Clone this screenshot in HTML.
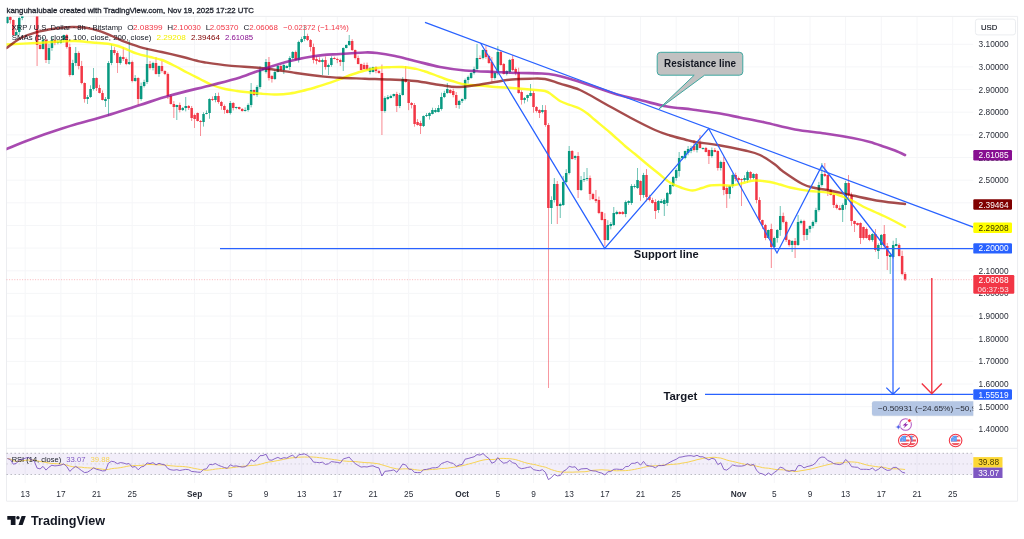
<!DOCTYPE html><html><head><meta charset="utf-8"><title>XRP / U.S. Dollar chart</title><style>html,body{margin:0;padding:0;background:#fff}body{width:1024px;height:539px;overflow:hidden;position:relative;font-family:"Liberation Sans",Arial,sans-serif}</style></head><body>
<svg width="1024" height="539" viewBox="0 0 1024 539" style="position:absolute;left:0;top:0;filter:blur(0.45px);font-family:'Liberation Sans',Arial,sans-serif">
<defs><clipPath id="cp"><rect x="6.5" y="16.4" width="966.8" height="431.6"/></clipPath>
<clipPath id="cr"><rect x="6.5" y="449" width="966.8" height="32"/></clipPath></defs>
<rect width="1024" height="539" fill="#fff"/>
<line x1="25.2" y1="16.4" x2="25.2" y2="483.0" stroke="#f5f6f8" stroke-width="1"/>
<line x1="60.9" y1="16.4" x2="60.9" y2="483.0" stroke="#f5f6f8" stroke-width="1"/>
<line x1="96.5" y1="16.4" x2="96.5" y2="483.0" stroke="#f5f6f8" stroke-width="1"/>
<line x1="132.2" y1="16.4" x2="132.2" y2="483.0" stroke="#f5f6f8" stroke-width="1"/>
<line x1="194.6" y1="16.4" x2="194.6" y2="483.0" stroke="#f5f6f8" stroke-width="1"/>
<line x1="230.3" y1="16.4" x2="230.3" y2="483.0" stroke="#f5f6f8" stroke-width="1"/>
<line x1="266.0" y1="16.4" x2="266.0" y2="483.0" stroke="#f5f6f8" stroke-width="1"/>
<line x1="301.7" y1="16.4" x2="301.7" y2="483.0" stroke="#f5f6f8" stroke-width="1"/>
<line x1="337.3" y1="16.4" x2="337.3" y2="483.0" stroke="#f5f6f8" stroke-width="1"/>
<line x1="373.0" y1="16.4" x2="373.0" y2="483.0" stroke="#f5f6f8" stroke-width="1"/>
<line x1="408.7" y1="16.4" x2="408.7" y2="483.0" stroke="#f5f6f8" stroke-width="1"/>
<line x1="462.2" y1="16.4" x2="462.2" y2="483.0" stroke="#f5f6f8" stroke-width="1"/>
<line x1="497.8" y1="16.4" x2="497.8" y2="483.0" stroke="#f5f6f8" stroke-width="1"/>
<line x1="533.5" y1="16.4" x2="533.5" y2="483.0" stroke="#f5f6f8" stroke-width="1"/>
<line x1="569.2" y1="16.4" x2="569.2" y2="483.0" stroke="#f5f6f8" stroke-width="1"/>
<line x1="604.9" y1="16.4" x2="604.9" y2="483.0" stroke="#f5f6f8" stroke-width="1"/>
<line x1="640.5" y1="16.4" x2="640.5" y2="483.0" stroke="#f5f6f8" stroke-width="1"/>
<line x1="676.2" y1="16.4" x2="676.2" y2="483.0" stroke="#f5f6f8" stroke-width="1"/>
<line x1="738.6" y1="16.4" x2="738.6" y2="483.0" stroke="#f5f6f8" stroke-width="1"/>
<line x1="774.3" y1="16.4" x2="774.3" y2="483.0" stroke="#f5f6f8" stroke-width="1"/>
<line x1="810.0" y1="16.4" x2="810.0" y2="483.0" stroke="#f5f6f8" stroke-width="1"/>
<line x1="845.6" y1="16.4" x2="845.6" y2="483.0" stroke="#f5f6f8" stroke-width="1"/>
<line x1="881.3" y1="16.4" x2="881.3" y2="483.0" stroke="#f5f6f8" stroke-width="1"/>
<line x1="917.0" y1="16.4" x2="917.0" y2="483.0" stroke="#f5f6f8" stroke-width="1"/>
<line x1="952.7" y1="16.4" x2="952.7" y2="483.0" stroke="#f5f6f8" stroke-width="1"/>
<line x1="6.5" y1="44.3" x2="973.3" y2="44.3" stroke="#f5f6f8" stroke-width="1"/>
<line x1="6.5" y1="66.9" x2="973.3" y2="66.9" stroke="#f5f6f8" stroke-width="1"/>
<line x1="6.5" y1="89.6" x2="973.3" y2="89.6" stroke="#f5f6f8" stroke-width="1"/>
<line x1="6.5" y1="112.2" x2="973.3" y2="112.2" stroke="#f5f6f8" stroke-width="1"/>
<line x1="6.5" y1="134.9" x2="973.3" y2="134.9" stroke="#f5f6f8" stroke-width="1"/>
<line x1="6.5" y1="157.5" x2="973.3" y2="157.5" stroke="#f5f6f8" stroke-width="1"/>
<line x1="6.5" y1="180.2" x2="973.3" y2="180.2" stroke="#f5f6f8" stroke-width="1"/>
<line x1="6.5" y1="202.8" x2="973.3" y2="202.8" stroke="#f5f6f8" stroke-width="1"/>
<line x1="6.5" y1="225.5" x2="973.3" y2="225.5" stroke="#f5f6f8" stroke-width="1"/>
<line x1="6.5" y1="248.1" x2="973.3" y2="248.1" stroke="#f5f6f8" stroke-width="1"/>
<line x1="6.5" y1="270.8" x2="973.3" y2="270.8" stroke="#f5f6f8" stroke-width="1"/>
<line x1="6.5" y1="293.4" x2="973.3" y2="293.4" stroke="#f5f6f8" stroke-width="1"/>
<line x1="6.5" y1="316.1" x2="973.3" y2="316.1" stroke="#f5f6f8" stroke-width="1"/>
<line x1="6.5" y1="338.7" x2="973.3" y2="338.7" stroke="#f5f6f8" stroke-width="1"/>
<line x1="6.5" y1="361.4" x2="973.3" y2="361.4" stroke="#f5f6f8" stroke-width="1"/>
<line x1="6.5" y1="384.0" x2="973.3" y2="384.0" stroke="#f5f6f8" stroke-width="1"/>
<line x1="6.5" y1="406.7" x2="973.3" y2="406.7" stroke="#f5f6f8" stroke-width="1"/>
<line x1="6.5" y1="429.3" x2="973.3" y2="429.3" stroke="#f5f6f8" stroke-width="1"/>
<path d="M6.5 16.4H1017.6V501.2H6.5Z" fill="none" stroke="#ecedf0" stroke-width="1"/>
<line x1="6.5" y1="448.3" x2="1017.6" y2="448.3" stroke="#ecedf0" stroke-width="1"/>
<rect x="6.5" y="453.3" width="966.8" height="21.3" fill="#7e57c2" fill-opacity="0.1"/>
<line x1="6.5" y1="453.30" x2="973.3" y2="453.30" stroke="#9a9ca5" stroke-width="0.8" stroke-dasharray="1.5 2.5" opacity="0.9"/>
<line x1="6.5" y1="463.95" x2="973.3" y2="463.95" stroke="#9a9ca5" stroke-width="0.8" stroke-dasharray="1.5 2.5" opacity="0.45"/>
<line x1="6.5" y1="474.60" x2="973.3" y2="474.60" stroke="#9a9ca5" stroke-width="0.8" stroke-dasharray="1.5 2.5" opacity="0.9"/>
<g clip-path="url(#cp)">
<path d="M7.36 15.7V23.8" stroke="#089981" stroke-width="0.7" opacity="0.85"/>
<rect x="6.11" y="17.0" width="2.5" height="6.0" fill="#089981"/>
<path d="M10.33 15.6V23.6" stroke="#f23645" stroke-width="0.7" opacity="0.85"/>
<rect x="9.08" y="17.0" width="2.5" height="3.0" fill="#f23645"/>
<path d="M13.31 19.4V35.6" stroke="#f23645" stroke-width="0.7" opacity="0.85"/>
<rect x="12.06" y="20.0" width="2.5" height="15.0" fill="#f23645"/>
<path d="M16.28 29.8V35.4" stroke="#089981" stroke-width="0.7" opacity="0.85"/>
<rect x="15.03" y="32.0" width="2.5" height="3.0" fill="#089981"/>
<path d="M19.25 16.3V35.5" stroke="#089981" stroke-width="0.7" opacity="0.85"/>
<rect x="18.00" y="18.0" width="2.5" height="14.0" fill="#089981"/>
<path d="M22.22 14.6V20.2" stroke="#089981" stroke-width="0.7" opacity="0.85"/>
<rect x="20.97" y="15.0" width="2.5" height="3.0" fill="#089981"/>
<path d="M25.20 9.2V15.4" stroke="#089981" stroke-width="0.7" opacity="0.85"/>
<rect x="23.95" y="10.0" width="2.5" height="5.0" fill="#089981"/>
<path d="M28.17 5.6V11.5" stroke="#089981" stroke-width="0.7" opacity="0.85"/>
<rect x="26.92" y="6.0" width="2.5" height="4.0" fill="#089981"/>
<path d="M31.14 4.3V12.4" stroke="#f23645" stroke-width="0.7" opacity="0.85"/>
<rect x="29.89" y="6.0" width="2.5" height="6.0" fill="#f23645"/>
<path d="M34.11 11.2V16.4" stroke="#f23645" stroke-width="0.7" opacity="0.85"/>
<rect x="32.86" y="12.0" width="2.5" height="4.0" fill="#f23645"/>
<path d="M37.09 10.7V66.0" stroke="#f23645" stroke-width="0.7" opacity="0.85"/>
<rect x="35.84" y="16.0" width="2.5" height="29.0" fill="#f23645"/>
<path d="M40.06 43.5V49.4" stroke="#f23645" stroke-width="0.7" opacity="0.85"/>
<rect x="38.81" y="45.0" width="2.5" height="4.0" fill="#f23645"/>
<path d="M43.03 37.1V49.5" stroke="#089981" stroke-width="0.7" opacity="0.85"/>
<rect x="41.78" y="40.0" width="2.5" height="9.0" fill="#089981"/>
<path d="M46.00 38.6V63.0" stroke="#f23645" stroke-width="0.7" opacity="0.85"/>
<rect x="44.75" y="40.0" width="2.5" height="20.0" fill="#f23645"/>
<path d="M48.98 43.7V64.0" stroke="#089981" stroke-width="0.7" opacity="0.85"/>
<rect x="47.73" y="48.0" width="2.5" height="12.0" fill="#089981"/>
<path d="M51.95 36.3V50.8" stroke="#089981" stroke-width="0.7" opacity="0.85"/>
<rect x="50.70" y="40.0" width="2.5" height="8.0" fill="#089981"/>
<path d="M54.92 39.6V45.2" stroke="#f23645" stroke-width="0.7" opacity="0.85"/>
<rect x="53.67" y="40.0" width="2.5" height="3.0" fill="#f23645"/>
<path d="M57.89 40.1V44.3" stroke="#089981" stroke-width="0.7" opacity="0.85"/>
<rect x="56.64" y="42.0" width="2.5" height="1.0" fill="#089981"/>
<path d="M60.87 39.6V43.7" stroke="#089981" stroke-width="0.7" opacity="0.85"/>
<rect x="59.62" y="40.0" width="2.5" height="3.0" fill="#089981"/>
<path d="M63.84 34.6V42.4" stroke="#089981" stroke-width="0.7" opacity="0.85"/>
<rect x="62.59" y="35.0" width="2.5" height="5.0" fill="#089981"/>
<path d="M66.81 33.9V48.6" stroke="#f23645" stroke-width="0.7" opacity="0.85"/>
<rect x="65.56" y="35.0" width="2.5" height="12.0" fill="#f23645"/>
<path d="M69.78 43.6V76.7" stroke="#f23645" stroke-width="0.7" opacity="0.85"/>
<rect x="68.53" y="47.0" width="2.5" height="28.0" fill="#f23645"/>
<path d="M72.76 59.8V75.5" stroke="#089981" stroke-width="0.7" opacity="0.85"/>
<rect x="71.51" y="63.0" width="2.5" height="12.0" fill="#089981"/>
<path d="M75.73 47.0V66.0" stroke="#089981" stroke-width="0.7" opacity="0.85"/>
<rect x="74.48" y="53.0" width="2.5" height="10.0" fill="#089981"/>
<path d="M78.70 51.3V69.4" stroke="#f23645" stroke-width="0.7" opacity="0.85"/>
<rect x="77.45" y="53.0" width="2.5" height="13.0" fill="#f23645"/>
<path d="M81.67 60.9V84.3" stroke="#f23645" stroke-width="0.7" opacity="0.85"/>
<rect x="80.42" y="66.0" width="2.5" height="17.0" fill="#f23645"/>
<path d="M84.65 82.4V102.7" stroke="#f23645" stroke-width="0.7" opacity="0.85"/>
<rect x="83.40" y="83.0" width="2.5" height="16.0" fill="#f23645"/>
<path d="M87.62 95.0V104.0" stroke="#089981" stroke-width="0.7" opacity="0.85"/>
<rect x="86.37" y="97.0" width="2.5" height="2.0" fill="#089981"/>
<path d="M90.59 85.3V97.9" stroke="#089981" stroke-width="0.7" opacity="0.85"/>
<rect x="89.34" y="89.0" width="2.5" height="8.0" fill="#089981"/>
<path d="M93.57 68.0V90.6" stroke="#089981" stroke-width="0.7" opacity="0.85"/>
<rect x="92.32" y="78.0" width="2.5" height="11.0" fill="#089981"/>
<path d="M96.54 77.5V91.0" stroke="#f23645" stroke-width="0.7" opacity="0.85"/>
<rect x="95.29" y="78.0" width="2.5" height="10.0" fill="#f23645"/>
<path d="M99.51 84.8V93.4" stroke="#f23645" stroke-width="0.7" opacity="0.85"/>
<rect x="98.26" y="88.0" width="2.5" height="5.0" fill="#f23645"/>
<path d="M102.48 90.4V100.4" stroke="#f23645" stroke-width="0.7" opacity="0.85"/>
<rect x="101.23" y="93.0" width="2.5" height="7.0" fill="#f23645"/>
<path d="M105.46 97.0V107.0" stroke="#089981" stroke-width="0.7" opacity="0.85"/>
<rect x="104.21" y="99.0" width="2.5" height="2.0" fill="#089981"/>
<path d="M108.43 61.0V116.0" stroke="#089981" stroke-width="0.7" opacity="0.85"/>
<rect x="107.18" y="63.0" width="2.5" height="36.0" fill="#089981"/>
<path d="M111.40 44.0V65.2" stroke="#089981" stroke-width="0.7" opacity="0.85"/>
<rect x="110.15" y="50.0" width="2.5" height="13.0" fill="#089981"/>
<path d="M114.37 47.1V55.2" stroke="#f23645" stroke-width="0.7" opacity="0.85"/>
<rect x="113.12" y="50.0" width="2.5" height="3.0" fill="#f23645"/>
<path d="M117.35 51.0V73.0" stroke="#f23645" stroke-width="0.7" opacity="0.85"/>
<rect x="116.10" y="53.0" width="2.5" height="10.0" fill="#f23645"/>
<path d="M120.32 55.7V64.7" stroke="#089981" stroke-width="0.7" opacity="0.85"/>
<rect x="119.07" y="57.0" width="2.5" height="6.0" fill="#089981"/>
<path d="M123.29 47.0V61.0" stroke="#f23645" stroke-width="0.7" opacity="0.85"/>
<rect x="122.04" y="57.0" width="2.5" height="2.0" fill="#f23645"/>
<path d="M126.26 57.4V65.2" stroke="#f23645" stroke-width="0.7" opacity="0.85"/>
<rect x="125.01" y="59.0" width="2.5" height="5.0" fill="#f23645"/>
<path d="M129.24 40.0V65.0" stroke="#089981" stroke-width="0.7" opacity="0.85"/>
<rect x="127.99" y="62.0" width="2.5" height="2.0" fill="#089981"/>
<path d="M132.21 60.6V82.4" stroke="#f23645" stroke-width="0.7" opacity="0.85"/>
<rect x="130.96" y="62.0" width="2.5" height="19.0" fill="#f23645"/>
<path d="M135.18 75.1V81.7" stroke="#089981" stroke-width="0.7" opacity="0.85"/>
<rect x="133.93" y="78.0" width="2.5" height="3.0" fill="#089981"/>
<path d="M138.15 77.3V105.0" stroke="#f23645" stroke-width="0.7" opacity="0.85"/>
<rect x="136.90" y="78.0" width="2.5" height="21.0" fill="#f23645"/>
<path d="M141.13 82.6V100.7" stroke="#089981" stroke-width="0.7" opacity="0.85"/>
<rect x="139.88" y="86.0" width="2.5" height="13.0" fill="#089981"/>
<path d="M144.10 79.7V87.5" stroke="#089981" stroke-width="0.7" opacity="0.85"/>
<rect x="142.85" y="82.0" width="2.5" height="4.0" fill="#089981"/>
<path d="M147.07 48.0V84.0" stroke="#089981" stroke-width="0.7" opacity="0.85"/>
<rect x="145.82" y="64.0" width="2.5" height="18.0" fill="#089981"/>
<path d="M150.04 61.0V69.5" stroke="#f23645" stroke-width="0.7" opacity="0.85"/>
<rect x="148.79" y="64.0" width="2.5" height="4.0" fill="#f23645"/>
<path d="M153.02 61.8V70.4" stroke="#089981" stroke-width="0.7" opacity="0.85"/>
<rect x="151.77" y="63.0" width="2.5" height="5.0" fill="#089981"/>
<path d="M155.99 57.0V74.5" stroke="#f23645" stroke-width="0.7" opacity="0.85"/>
<rect x="154.74" y="63.0" width="2.5" height="11.0" fill="#f23645"/>
<path d="M158.96 65.5V76.8" stroke="#089981" stroke-width="0.7" opacity="0.85"/>
<rect x="157.71" y="66.0" width="2.5" height="8.0" fill="#089981"/>
<path d="M161.94 61.0V72.6" stroke="#f23645" stroke-width="0.7" opacity="0.85"/>
<rect x="160.69" y="66.0" width="2.5" height="5.0" fill="#f23645"/>
<path d="M164.91 70.3V75.1" stroke="#f23645" stroke-width="0.7" opacity="0.85"/>
<rect x="163.66" y="71.0" width="2.5" height="3.0" fill="#f23645"/>
<path d="M167.88 72.5V99.0" stroke="#f23645" stroke-width="0.7" opacity="0.85"/>
<rect x="166.63" y="74.0" width="2.5" height="22.0" fill="#f23645"/>
<path d="M170.85 94.2V104.5" stroke="#f23645" stroke-width="0.7" opacity="0.85"/>
<rect x="169.60" y="96.0" width="2.5" height="8.0" fill="#f23645"/>
<path d="M173.83 101.1V118.0" stroke="#f23645" stroke-width="0.7" opacity="0.85"/>
<rect x="172.58" y="104.0" width="2.5" height="3.0" fill="#f23645"/>
<path d="M176.80 104.7V120.0" stroke="#089981" stroke-width="0.7" opacity="0.85"/>
<rect x="175.55" y="105.0" width="2.5" height="2.0" fill="#089981"/>
<path d="M179.77 102.6V112.4" stroke="#f23645" stroke-width="0.7" opacity="0.85"/>
<rect x="178.52" y="105.0" width="2.5" height="5.0" fill="#f23645"/>
<path d="M182.74 107.0V111.0" stroke="#089981" stroke-width="0.7" opacity="0.85"/>
<rect x="181.49" y="108.0" width="2.5" height="2.0" fill="#089981"/>
<path d="M185.72 97.0V111.4" stroke="#089981" stroke-width="0.7" opacity="0.85"/>
<rect x="184.47" y="106.0" width="2.5" height="2.0" fill="#089981"/>
<path d="M188.69 105.0V110.0" stroke="#f23645" stroke-width="0.7" opacity="0.85"/>
<rect x="187.44" y="106.0" width="2.5" height="2.0" fill="#f23645"/>
<path d="M191.66 106.0V121.0" stroke="#f23645" stroke-width="0.7" opacity="0.85"/>
<rect x="190.41" y="108.0" width="2.5" height="10.0" fill="#f23645"/>
<path d="M194.63 113.5V128.0" stroke="#f23645" stroke-width="0.7" opacity="0.85"/>
<rect x="193.38" y="115.0" width="2.5" height="4.0" fill="#f23645"/>
<path d="M197.61 112.5V121.5" stroke="#f23645" stroke-width="0.7" opacity="0.85"/>
<rect x="196.36" y="113.0" width="2.5" height="8.0" fill="#f23645"/>
<path d="M200.58 120.0V136.0" stroke="#f23645" stroke-width="0.7" opacity="0.85"/>
<rect x="199.33" y="121.0" width="2.5" height="1.0" fill="#f23645"/>
<path d="M203.55 112.2V126.6" stroke="#089981" stroke-width="0.7" opacity="0.85"/>
<rect x="202.30" y="114.0" width="2.5" height="8.0" fill="#089981"/>
<path d="M206.52 110.4V114.3" stroke="#089981" stroke-width="0.7" opacity="0.85"/>
<rect x="205.27" y="113.0" width="2.5" height="1.0" fill="#089981"/>
<path d="M209.50 98.4V118.8" stroke="#089981" stroke-width="0.7" opacity="0.85"/>
<rect x="208.25" y="99.0" width="2.5" height="14.0" fill="#089981"/>
<path d="M212.47 96.4V101.0" stroke="#f23645" stroke-width="0.7" opacity="0.85"/>
<rect x="211.22" y="99.0" width="2.5" height="1.0" fill="#f23645"/>
<path d="M215.44 93.0V102.3" stroke="#089981" stroke-width="0.7" opacity="0.85"/>
<rect x="214.19" y="96.0" width="2.5" height="4.0" fill="#089981"/>
<path d="M218.41 92.6V103.7" stroke="#f23645" stroke-width="0.7" opacity="0.85"/>
<rect x="217.16" y="96.0" width="2.5" height="6.0" fill="#f23645"/>
<path d="M221.39 100.9V109.8" stroke="#f23645" stroke-width="0.7" opacity="0.85"/>
<rect x="220.14" y="102.0" width="2.5" height="4.0" fill="#f23645"/>
<path d="M224.36 104.5V113.8" stroke="#f23645" stroke-width="0.7" opacity="0.85"/>
<rect x="223.11" y="106.0" width="2.5" height="4.0" fill="#f23645"/>
<path d="M227.33 108.9V113.4" stroke="#f23645" stroke-width="0.7" opacity="0.85"/>
<rect x="226.08" y="110.0" width="2.5" height="3.0" fill="#f23645"/>
<path d="M230.31 101.0V114.5" stroke="#089981" stroke-width="0.7" opacity="0.85"/>
<rect x="229.06" y="103.0" width="2.5" height="10.0" fill="#089981"/>
<path d="M233.28 102.2V110.4" stroke="#f23645" stroke-width="0.7" opacity="0.85"/>
<rect x="232.03" y="103.0" width="2.5" height="5.0" fill="#f23645"/>
<path d="M236.25 106.7V109.3" stroke="#089981" stroke-width="0.7" opacity="0.85"/>
<rect x="235.00" y="107.0" width="2.5" height="1.0" fill="#089981"/>
<path d="M239.22 106.7V109.7" stroke="#f23645" stroke-width="0.7" opacity="0.85"/>
<rect x="237.97" y="107.0" width="2.5" height="2.0" fill="#f23645"/>
<path d="M242.20 108.0V111.7" stroke="#f23645" stroke-width="0.7" opacity="0.85"/>
<rect x="240.95" y="109.0" width="2.5" height="2.0" fill="#f23645"/>
<path d="M245.17 107.4V111.6" stroke="#089981" stroke-width="0.7" opacity="0.85"/>
<rect x="243.92" y="110.0" width="2.5" height="1.0" fill="#089981"/>
<path d="M248.14 103.4V111.6" stroke="#089981" stroke-width="0.7" opacity="0.85"/>
<rect x="246.89" y="105.0" width="2.5" height="5.0" fill="#089981"/>
<path d="M251.11 83.0V107.4" stroke="#089981" stroke-width="0.7" opacity="0.85"/>
<rect x="249.86" y="90.0" width="2.5" height="15.0" fill="#089981"/>
<path d="M254.09 89.6V95.8" stroke="#f23645" stroke-width="0.7" opacity="0.85"/>
<rect x="252.84" y="90.0" width="2.5" height="5.0" fill="#f23645"/>
<path d="M257.06 85.2V96.8" stroke="#089981" stroke-width="0.7" opacity="0.85"/>
<rect x="255.81" y="87.0" width="2.5" height="8.0" fill="#089981"/>
<path d="M260.03 66.2V88.9" stroke="#089981" stroke-width="0.7" opacity="0.85"/>
<rect x="258.78" y="70.0" width="2.5" height="17.0" fill="#089981"/>
<path d="M263.00 68.4V71.3" stroke="#089981" stroke-width="0.7" opacity="0.85"/>
<rect x="261.75" y="69.0" width="2.5" height="1.0" fill="#089981"/>
<path d="M265.98 59.0V73.5" stroke="#089981" stroke-width="0.7" opacity="0.85"/>
<rect x="264.73" y="62.0" width="2.5" height="10.0" fill="#089981"/>
<path d="M268.95 57.0V80.5" stroke="#f23645" stroke-width="0.7" opacity="0.85"/>
<rect x="267.70" y="62.0" width="2.5" height="16.0" fill="#f23645"/>
<path d="M271.92 74.9V82.6" stroke="#f23645" stroke-width="0.7" opacity="0.85"/>
<rect x="270.67" y="76.0" width="2.5" height="3.0" fill="#f23645"/>
<path d="M274.89 70.2V79.9" stroke="#089981" stroke-width="0.7" opacity="0.85"/>
<rect x="273.64" y="72.0" width="2.5" height="7.0" fill="#089981"/>
<path d="M277.87 65.2V72.4" stroke="#089981" stroke-width="0.7" opacity="0.85"/>
<rect x="276.62" y="66.0" width="2.5" height="6.0" fill="#089981"/>
<path d="M280.84 65.2V70.8" stroke="#f23645" stroke-width="0.7" opacity="0.85"/>
<rect x="279.59" y="66.0" width="2.5" height="4.0" fill="#f23645"/>
<path d="M283.81 64.2V74.0" stroke="#089981" stroke-width="0.7" opacity="0.85"/>
<rect x="282.56" y="65.0" width="2.5" height="5.0" fill="#089981"/>
<path d="M286.78 65.3V68.3" stroke="#089981" stroke-width="0.7" opacity="0.85"/>
<rect x="285.53" y="66.0" width="2.5" height="2.0" fill="#089981"/>
<path d="M289.76 56.1V69.9" stroke="#089981" stroke-width="0.7" opacity="0.85"/>
<rect x="288.51" y="58.0" width="2.5" height="9.0" fill="#089981"/>
<path d="M292.73 51.2V59.3" stroke="#089981" stroke-width="0.7" opacity="0.85"/>
<rect x="291.48" y="52.0" width="2.5" height="6.0" fill="#089981"/>
<path d="M295.70 50.6V60.5" stroke="#f23645" stroke-width="0.7" opacity="0.85"/>
<rect x="294.45" y="52.0" width="2.5" height="8.0" fill="#f23645"/>
<path d="M298.67 40.7V62.6" stroke="#089981" stroke-width="0.7" opacity="0.85"/>
<rect x="297.42" y="42.0" width="2.5" height="18.0" fill="#089981"/>
<path d="M301.65 36.8V43.1" stroke="#089981" stroke-width="0.7" opacity="0.85"/>
<rect x="300.40" y="39.0" width="2.5" height="3.0" fill="#089981"/>
<path d="M304.62 25.0V41.2" stroke="#089981" stroke-width="0.7" opacity="0.85"/>
<rect x="303.37" y="36.0" width="2.5" height="3.0" fill="#089981"/>
<path d="M307.59 33.7V41.1" stroke="#f23645" stroke-width="0.7" opacity="0.85"/>
<rect x="306.34" y="36.0" width="2.5" height="4.0" fill="#f23645"/>
<path d="M310.57 39.1V51.4" stroke="#f23645" stroke-width="0.7" opacity="0.85"/>
<rect x="309.32" y="40.0" width="2.5" height="7.0" fill="#f23645"/>
<path d="M313.54 43.6V63.4" stroke="#f23645" stroke-width="0.7" opacity="0.85"/>
<rect x="312.29" y="47.0" width="2.5" height="13.0" fill="#f23645"/>
<path d="M316.51 56.3V64.4" stroke="#f23645" stroke-width="0.7" opacity="0.85"/>
<rect x="315.26" y="59.0" width="2.5" height="2.0" fill="#f23645"/>
<path d="M319.48 57.3V62.3" stroke="#f23645" stroke-width="0.7" opacity="0.85"/>
<rect x="318.23" y="60.0" width="2.5" height="2.0" fill="#f23645"/>
<path d="M322.46 58.6V75.0" stroke="#089981" stroke-width="0.7" opacity="0.85"/>
<rect x="321.21" y="60.0" width="2.5" height="2.0" fill="#089981"/>
<path d="M325.43 56.5V69.6" stroke="#f23645" stroke-width="0.7" opacity="0.85"/>
<rect x="324.18" y="60.0" width="2.5" height="7.0" fill="#f23645"/>
<path d="M328.40 63.6V75.0" stroke="#089981" stroke-width="0.7" opacity="0.85"/>
<rect x="327.15" y="65.0" width="2.5" height="2.0" fill="#089981"/>
<path d="M331.37 56.2V66.8" stroke="#089981" stroke-width="0.7" opacity="0.85"/>
<rect x="330.12" y="58.0" width="2.5" height="7.0" fill="#089981"/>
<path d="M334.35 56.7V59.3" stroke="#f23645" stroke-width="0.7" opacity="0.85"/>
<rect x="333.10" y="58.0" width="2.5" height="1.0" fill="#f23645"/>
<path d="M337.32 57.7V63.2" stroke="#f23645" stroke-width="0.7" opacity="0.85"/>
<rect x="336.07" y="59.0" width="2.5" height="1.0" fill="#f23645"/>
<path d="M340.29 58.6V66.0" stroke="#f23645" stroke-width="0.7" opacity="0.85"/>
<rect x="339.04" y="60.0" width="2.5" height="2.0" fill="#f23645"/>
<path d="M343.26 47.4V71.0" stroke="#089981" stroke-width="0.7" opacity="0.85"/>
<rect x="342.01" y="48.0" width="2.5" height="14.0" fill="#089981"/>
<path d="M346.24 44.3V48.4" stroke="#089981" stroke-width="0.7" opacity="0.85"/>
<rect x="344.99" y="45.0" width="2.5" height="3.0" fill="#089981"/>
<path d="M349.21 35.0V45.8" stroke="#089981" stroke-width="0.7" opacity="0.85"/>
<rect x="347.96" y="41.0" width="2.5" height="4.0" fill="#089981"/>
<path d="M352.18 39.1V51.0" stroke="#f23645" stroke-width="0.7" opacity="0.85"/>
<rect x="350.93" y="41.0" width="2.5" height="9.0" fill="#f23645"/>
<path d="M355.15 49.5V59.4" stroke="#f23645" stroke-width="0.7" opacity="0.85"/>
<rect x="353.90" y="50.0" width="2.5" height="8.0" fill="#f23645"/>
<path d="M358.13 55.5V64.4" stroke="#f23645" stroke-width="0.7" opacity="0.85"/>
<rect x="356.88" y="58.0" width="2.5" height="6.0" fill="#f23645"/>
<path d="M361.10 63.6V70.4" stroke="#f23645" stroke-width="0.7" opacity="0.85"/>
<rect x="359.85" y="64.0" width="2.5" height="6.0" fill="#f23645"/>
<path d="M364.07 62.7V69.8" stroke="#f23645" stroke-width="0.7" opacity="0.85"/>
<rect x="362.82" y="65.0" width="2.5" height="4.0" fill="#f23645"/>
<path d="M367.04 62.6V70.4" stroke="#f23645" stroke-width="0.7" opacity="0.85"/>
<rect x="365.79" y="65.0" width="2.5" height="5.0" fill="#f23645"/>
<path d="M370.02 66.9V74.3" stroke="#089981" stroke-width="0.7" opacity="0.85"/>
<rect x="368.77" y="68.0" width="2.5" height="4.0" fill="#089981"/>
<path d="M372.99 66.6V72.4" stroke="#089981" stroke-width="0.7" opacity="0.85"/>
<rect x="371.74" y="67.0" width="2.5" height="5.0" fill="#089981"/>
<path d="M375.96 66.2V73.3" stroke="#f23645" stroke-width="0.7" opacity="0.85"/>
<rect x="374.71" y="67.0" width="2.5" height="4.0" fill="#f23645"/>
<path d="M378.94 69.6V73.7" stroke="#f23645" stroke-width="0.7" opacity="0.85"/>
<rect x="377.69" y="71.0" width="2.5" height="2.0" fill="#f23645"/>
<path d="M381.91 64.5V135.0" stroke="#f23645" stroke-width="0.7" opacity="0.85"/>
<rect x="380.66" y="73.0" width="2.5" height="38.0" fill="#f23645"/>
<path d="M384.88 96.3V112.7" stroke="#089981" stroke-width="0.7" opacity="0.85"/>
<rect x="383.63" y="98.0" width="2.5" height="13.0" fill="#089981"/>
<path d="M387.85 95.0V100.0" stroke="#089981" stroke-width="0.7" opacity="0.85"/>
<rect x="386.60" y="97.0" width="2.5" height="2.0" fill="#089981"/>
<path d="M390.83 94.6V98.3" stroke="#089981" stroke-width="0.7" opacity="0.85"/>
<rect x="389.58" y="96.0" width="2.5" height="2.0" fill="#089981"/>
<path d="M393.80 93.7V97.4" stroke="#089981" stroke-width="0.7" opacity="0.85"/>
<rect x="392.55" y="94.0" width="2.5" height="2.0" fill="#089981"/>
<path d="M396.77 91.8V112.0" stroke="#f23645" stroke-width="0.7" opacity="0.85"/>
<rect x="395.52" y="94.0" width="2.5" height="12.0" fill="#f23645"/>
<path d="M399.74 92.9V108.1" stroke="#089981" stroke-width="0.7" opacity="0.85"/>
<rect x="398.49" y="95.0" width="2.5" height="11.0" fill="#089981"/>
<path d="M402.72 77.1V95.6" stroke="#089981" stroke-width="0.7" opacity="0.85"/>
<rect x="401.47" y="79.0" width="2.5" height="16.0" fill="#089981"/>
<path d="M405.69 66.0V82.7" stroke="#f23645" stroke-width="0.7" opacity="0.85"/>
<rect x="404.44" y="79.0" width="2.5" height="3.0" fill="#f23645"/>
<path d="M408.66 81.3V110.2" stroke="#f23645" stroke-width="0.7" opacity="0.85"/>
<rect x="407.41" y="82.0" width="2.5" height="21.0" fill="#f23645"/>
<path d="M411.63 102.0V108.4" stroke="#f23645" stroke-width="0.7" opacity="0.85"/>
<rect x="410.38" y="103.0" width="2.5" height="2.0" fill="#f23645"/>
<path d="M414.61 103.0V126.7" stroke="#f23645" stroke-width="0.7" opacity="0.85"/>
<rect x="413.36" y="105.0" width="2.5" height="19.0" fill="#f23645"/>
<path d="M417.58 119.1V125.7" stroke="#f23645" stroke-width="0.7" opacity="0.85"/>
<rect x="416.33" y="122.0" width="2.5" height="3.0" fill="#f23645"/>
<path d="M420.55 120.8V134.0" stroke="#f23645" stroke-width="0.7" opacity="0.85"/>
<rect x="419.30" y="123.0" width="2.5" height="3.0" fill="#f23645"/>
<path d="M423.52 115.5V127.0" stroke="#089981" stroke-width="0.7" opacity="0.85"/>
<rect x="422.27" y="116.0" width="2.5" height="10.0" fill="#089981"/>
<path d="M426.50 113.1V117.0" stroke="#089981" stroke-width="0.7" opacity="0.85"/>
<rect x="425.25" y="115.0" width="2.5" height="1.0" fill="#089981"/>
<path d="M429.47 112.3V119.6" stroke="#089981" stroke-width="0.7" opacity="0.85"/>
<rect x="428.22" y="113.0" width="2.5" height="3.0" fill="#089981"/>
<path d="M432.44 107.7V114.4" stroke="#089981" stroke-width="0.7" opacity="0.85"/>
<rect x="431.19" y="110.0" width="2.5" height="4.0" fill="#089981"/>
<path d="M435.41 108.0V113.0" stroke="#089981" stroke-width="0.7" opacity="0.85"/>
<rect x="434.16" y="110.0" width="2.5" height="2.0" fill="#089981"/>
<path d="M438.39 105.0V112.4" stroke="#089981" stroke-width="0.7" opacity="0.85"/>
<rect x="437.14" y="108.0" width="2.5" height="4.0" fill="#089981"/>
<path d="M441.36 92.7V110.6" stroke="#089981" stroke-width="0.7" opacity="0.85"/>
<rect x="440.11" y="97.0" width="2.5" height="12.0" fill="#089981"/>
<path d="M444.33 90.7V98.1" stroke="#089981" stroke-width="0.7" opacity="0.85"/>
<rect x="443.08" y="93.0" width="2.5" height="4.0" fill="#089981"/>
<path d="M447.30 83.0V93.8" stroke="#089981" stroke-width="0.7" opacity="0.85"/>
<rect x="446.05" y="89.0" width="2.5" height="4.0" fill="#089981"/>
<path d="M450.28 88.9V93.7" stroke="#f23645" stroke-width="0.7" opacity="0.85"/>
<rect x="449.03" y="90.0" width="2.5" height="3.0" fill="#f23645"/>
<path d="M453.25 88.7V97.3" stroke="#f23645" stroke-width="0.7" opacity="0.85"/>
<rect x="452.00" y="91.0" width="2.5" height="4.0" fill="#f23645"/>
<path d="M456.22 92.0V108.0" stroke="#f23645" stroke-width="0.7" opacity="0.85"/>
<rect x="454.97" y="95.0" width="2.5" height="10.0" fill="#f23645"/>
<path d="M459.20 99.9V108.8" stroke="#089981" stroke-width="0.7" opacity="0.85"/>
<rect x="457.95" y="101.0" width="2.5" height="4.0" fill="#089981"/>
<path d="M462.17 98.3V103.0" stroke="#089981" stroke-width="0.7" opacity="0.85"/>
<rect x="460.92" y="99.0" width="2.5" height="2.0" fill="#089981"/>
<path d="M465.14 78.6V100.4" stroke="#089981" stroke-width="0.7" opacity="0.85"/>
<rect x="463.89" y="80.0" width="2.5" height="19.0" fill="#089981"/>
<path d="M468.11 75.6V83.6" stroke="#089981" stroke-width="0.7" opacity="0.85"/>
<rect x="466.86" y="77.0" width="2.5" height="3.0" fill="#089981"/>
<path d="M471.09 72.2V78.8" stroke="#089981" stroke-width="0.7" opacity="0.85"/>
<rect x="469.84" y="73.0" width="2.5" height="5.0" fill="#089981"/>
<path d="M474.06 66.7V74.5" stroke="#089981" stroke-width="0.7" opacity="0.85"/>
<rect x="472.81" y="69.0" width="2.5" height="4.0" fill="#089981"/>
<path d="M477.03 44.0V70.6" stroke="#089981" stroke-width="0.7" opacity="0.85"/>
<rect x="475.78" y="58.0" width="2.5" height="11.0" fill="#089981"/>
<path d="M480.00 55.4V59.3" stroke="#f23645" stroke-width="0.7" opacity="0.85"/>
<rect x="478.75" y="58.0" width="2.5" height="1.0" fill="#f23645"/>
<path d="M482.98 49.5V59.4" stroke="#089981" stroke-width="0.7" opacity="0.85"/>
<rect x="481.73" y="50.0" width="2.5" height="8.0" fill="#089981"/>
<path d="M485.95 46.0V58.8" stroke="#f23645" stroke-width="0.7" opacity="0.85"/>
<rect x="484.70" y="50.0" width="2.5" height="7.0" fill="#f23645"/>
<path d="M488.92 54.7V63.9" stroke="#f23645" stroke-width="0.7" opacity="0.85"/>
<rect x="487.67" y="56.0" width="2.5" height="7.0" fill="#f23645"/>
<path d="M491.89 57.0V81.7" stroke="#f23645" stroke-width="0.7" opacity="0.85"/>
<rect x="490.64" y="62.0" width="2.5" height="16.0" fill="#f23645"/>
<path d="M494.87 71.8V79.6" stroke="#089981" stroke-width="0.7" opacity="0.85"/>
<rect x="493.62" y="73.0" width="2.5" height="5.0" fill="#089981"/>
<path d="M497.84 46.2V75.2" stroke="#089981" stroke-width="0.7" opacity="0.85"/>
<rect x="496.59" y="52.0" width="2.5" height="21.0" fill="#089981"/>
<path d="M500.81 50.3V65.6" stroke="#f23645" stroke-width="0.7" opacity="0.85"/>
<rect x="499.56" y="52.0" width="2.5" height="13.0" fill="#f23645"/>
<path d="M503.78 63.0V74.5" stroke="#f23645" stroke-width="0.7" opacity="0.85"/>
<rect x="502.53" y="64.0" width="2.5" height="10.0" fill="#f23645"/>
<path d="M506.76 70.3V75.4" stroke="#089981" stroke-width="0.7" opacity="0.85"/>
<rect x="505.51" y="71.0" width="2.5" height="3.0" fill="#089981"/>
<path d="M509.73 58.9V73.6" stroke="#089981" stroke-width="0.7" opacity="0.85"/>
<rect x="508.48" y="60.0" width="2.5" height="12.0" fill="#089981"/>
<path d="M512.70 55.0V71.0" stroke="#f23645" stroke-width="0.7" opacity="0.85"/>
<rect x="511.45" y="59.0" width="2.5" height="11.0" fill="#f23645"/>
<path d="M515.67 67.5V75.3" stroke="#f23645" stroke-width="0.7" opacity="0.85"/>
<rect x="514.42" y="69.0" width="2.5" height="4.0" fill="#f23645"/>
<path d="M518.65 67.7V93.7" stroke="#f23645" stroke-width="0.7" opacity="0.85"/>
<rect x="517.40" y="72.0" width="2.5" height="21.0" fill="#f23645"/>
<path d="M521.62 90.2V104.6" stroke="#f23645" stroke-width="0.7" opacity="0.85"/>
<rect x="520.37" y="92.0" width="2.5" height="8.0" fill="#f23645"/>
<path d="M524.59 97.0V103.4" stroke="#089981" stroke-width="0.7" opacity="0.85"/>
<rect x="523.34" y="98.0" width="2.5" height="2.0" fill="#089981"/>
<path d="M527.56 94.6V101.6" stroke="#089981" stroke-width="0.7" opacity="0.85"/>
<rect x="526.31" y="95.0" width="2.5" height="3.0" fill="#089981"/>
<path d="M530.54 84.0V96.4" stroke="#089981" stroke-width="0.7" opacity="0.85"/>
<rect x="529.29" y="93.0" width="2.5" height="3.0" fill="#089981"/>
<path d="M533.51 90.7V112.8" stroke="#f23645" stroke-width="0.7" opacity="0.85"/>
<rect x="532.26" y="93.0" width="2.5" height="14.0" fill="#f23645"/>
<path d="M536.48 106.2V112.5" stroke="#f23645" stroke-width="0.7" opacity="0.85"/>
<rect x="535.23" y="107.0" width="2.5" height="4.0" fill="#f23645"/>
<path d="M539.46 109.3V118.0" stroke="#f23645" stroke-width="0.7" opacity="0.85"/>
<rect x="538.21" y="110.0" width="2.5" height="3.0" fill="#f23645"/>
<path d="M542.43 105.0V113.4" stroke="#089981" stroke-width="0.7" opacity="0.85"/>
<rect x="541.18" y="110.0" width="2.5" height="2.0" fill="#089981"/>
<path d="M545.40 105.2V126.8" stroke="#f23645" stroke-width="0.7" opacity="0.85"/>
<rect x="544.15" y="110.0" width="2.5" height="15.0" fill="#f23645"/>
<path d="M548.37 123.0V388.0" stroke="#f23645" stroke-width="0.7" opacity="0.85"/>
<rect x="547.12" y="125.0" width="2.5" height="83.0" fill="#f23645"/>
<path d="M551.35 196.3V224.0" stroke="#089981" stroke-width="0.7" opacity="0.85"/>
<rect x="550.10" y="200.0" width="2.5" height="8.0" fill="#089981"/>
<path d="M554.32 178.0V202.5" stroke="#089981" stroke-width="0.7" opacity="0.85"/>
<rect x="553.07" y="184.0" width="2.5" height="16.0" fill="#089981"/>
<path d="M557.29 181.0V224.0" stroke="#f23645" stroke-width="0.7" opacity="0.85"/>
<rect x="556.04" y="184.0" width="2.5" height="22.0" fill="#f23645"/>
<path d="M560.26 202.6V218.0" stroke="#089981" stroke-width="0.7" opacity="0.85"/>
<rect x="559.01" y="204.0" width="2.5" height="2.0" fill="#089981"/>
<path d="M563.24 175.9V205.8" stroke="#089981" stroke-width="0.7" opacity="0.85"/>
<rect x="561.99" y="182.0" width="2.5" height="23.0" fill="#089981"/>
<path d="M566.21 169.2V183.0" stroke="#089981" stroke-width="0.7" opacity="0.85"/>
<rect x="564.96" y="173.0" width="2.5" height="9.0" fill="#089981"/>
<path d="M569.18 146.0V174.5" stroke="#089981" stroke-width="0.7" opacity="0.85"/>
<rect x="567.93" y="151.0" width="2.5" height="22.0" fill="#089981"/>
<path d="M572.15 150.1V159.5" stroke="#f23645" stroke-width="0.7" opacity="0.85"/>
<rect x="570.90" y="151.0" width="2.5" height="8.0" fill="#f23645"/>
<path d="M575.13 155.3V160.0" stroke="#089981" stroke-width="0.7" opacity="0.85"/>
<rect x="573.88" y="156.0" width="2.5" height="2.0" fill="#089981"/>
<path d="M578.10 152.1V198.0" stroke="#f23645" stroke-width="0.7" opacity="0.85"/>
<rect x="576.85" y="156.0" width="2.5" height="34.0" fill="#f23645"/>
<path d="M581.07 176.0V191.0" stroke="#089981" stroke-width="0.7" opacity="0.85"/>
<rect x="579.82" y="180.0" width="2.5" height="10.0" fill="#089981"/>
<path d="M584.04 172.0V181.9" stroke="#089981" stroke-width="0.7" opacity="0.85"/>
<rect x="582.79" y="179.0" width="2.5" height="1.0" fill="#089981"/>
<path d="M587.02 168.0V180.9" stroke="#089981" stroke-width="0.7" opacity="0.85"/>
<rect x="585.77" y="178.0" width="2.5" height="1.0" fill="#089981"/>
<path d="M589.99 175.5V200.2" stroke="#f23645" stroke-width="0.7" opacity="0.85"/>
<rect x="588.74" y="178.0" width="2.5" height="16.0" fill="#f23645"/>
<path d="M592.96 192.8V199.8" stroke="#f23645" stroke-width="0.7" opacity="0.85"/>
<rect x="591.71" y="194.0" width="2.5" height="5.0" fill="#f23645"/>
<path d="M595.93 190.0V203.0" stroke="#f23645" stroke-width="0.7" opacity="0.85"/>
<rect x="594.68" y="199.0" width="2.5" height="2.0" fill="#f23645"/>
<path d="M598.91 196.6V214.1" stroke="#f23645" stroke-width="0.7" opacity="0.85"/>
<rect x="597.66" y="200.0" width="2.5" height="13.0" fill="#f23645"/>
<path d="M601.88 211.5V220.5" stroke="#f23645" stroke-width="0.7" opacity="0.85"/>
<rect x="600.63" y="212.0" width="2.5" height="8.0" fill="#f23645"/>
<path d="M604.85 213.2V246.0" stroke="#f23645" stroke-width="0.7" opacity="0.85"/>
<rect x="603.60" y="219.0" width="2.5" height="21.0" fill="#f23645"/>
<path d="M607.83 220.2V240.6" stroke="#089981" stroke-width="0.7" opacity="0.85"/>
<rect x="606.58" y="225.0" width="2.5" height="15.0" fill="#089981"/>
<path d="M610.80 222.0V229.4" stroke="#089981" stroke-width="0.7" opacity="0.85"/>
<rect x="609.55" y="224.0" width="2.5" height="2.0" fill="#089981"/>
<path d="M613.77 207.0V226.1" stroke="#089981" stroke-width="0.7" opacity="0.85"/>
<rect x="612.52" y="213.0" width="2.5" height="12.0" fill="#089981"/>
<path d="M616.74 210.6V214.7" stroke="#089981" stroke-width="0.7" opacity="0.85"/>
<rect x="615.49" y="212.0" width="2.5" height="2.0" fill="#089981"/>
<path d="M619.72 211.3V214.3" stroke="#f23645" stroke-width="0.7" opacity="0.85"/>
<rect x="618.47" y="212.0" width="2.5" height="2.0" fill="#f23645"/>
<path d="M622.69 211.0V214.7" stroke="#f23645" stroke-width="0.7" opacity="0.85"/>
<rect x="621.44" y="212.0" width="2.5" height="2.0" fill="#f23645"/>
<path d="M625.66 200.4V217.2" stroke="#089981" stroke-width="0.7" opacity="0.85"/>
<rect x="624.41" y="202.0" width="2.5" height="12.0" fill="#089981"/>
<path d="M628.63 200.3V205.0" stroke="#089981" stroke-width="0.7" opacity="0.85"/>
<rect x="627.38" y="201.0" width="2.5" height="2.0" fill="#089981"/>
<path d="M631.61 184.1V204.9" stroke="#089981" stroke-width="0.7" opacity="0.85"/>
<rect x="630.36" y="186.0" width="2.5" height="17.0" fill="#089981"/>
<path d="M634.58 184.1V188.3" stroke="#089981" stroke-width="0.7" opacity="0.85"/>
<rect x="633.33" y="186.0" width="2.5" height="1.0" fill="#089981"/>
<path d="M637.55 168.0V188.9" stroke="#089981" stroke-width="0.7" opacity="0.85"/>
<rect x="636.30" y="180.0" width="2.5" height="8.0" fill="#089981"/>
<path d="M640.52 180.4V200.8" stroke="#f23645" stroke-width="0.7" opacity="0.85"/>
<rect x="639.27" y="181.0" width="2.5" height="14.0" fill="#f23645"/>
<path d="M643.50 172.9V197.8" stroke="#089981" stroke-width="0.7" opacity="0.85"/>
<rect x="642.25" y="175.0" width="2.5" height="20.0" fill="#089981"/>
<path d="M646.47 169.1V201.4" stroke="#f23645" stroke-width="0.7" opacity="0.85"/>
<rect x="645.22" y="175.0" width="2.5" height="22.0" fill="#f23645"/>
<path d="M649.44 194.8V201.4" stroke="#f23645" stroke-width="0.7" opacity="0.85"/>
<rect x="648.19" y="197.0" width="2.5" height="3.0" fill="#f23645"/>
<path d="M652.41 197.8V203.7" stroke="#f23645" stroke-width="0.7" opacity="0.85"/>
<rect x="651.16" y="200.0" width="2.5" height="3.0" fill="#f23645"/>
<path d="M655.39 199.1V219.0" stroke="#f23645" stroke-width="0.7" opacity="0.85"/>
<rect x="654.14" y="202.0" width="2.5" height="9.0" fill="#f23645"/>
<path d="M658.36 200.0V212.9" stroke="#089981" stroke-width="0.7" opacity="0.85"/>
<rect x="657.11" y="201.0" width="2.5" height="9.0" fill="#089981"/>
<path d="M661.33 199.0V203.3" stroke="#089981" stroke-width="0.7" opacity="0.85"/>
<rect x="660.08" y="201.0" width="2.5" height="2.0" fill="#089981"/>
<path d="M664.30 198.5V216.0" stroke="#089981" stroke-width="0.7" opacity="0.85"/>
<rect x="663.05" y="200.0" width="2.5" height="4.0" fill="#089981"/>
<path d="M667.28 192.0V206.0" stroke="#089981" stroke-width="0.7" opacity="0.85"/>
<rect x="666.03" y="193.0" width="2.5" height="10.0" fill="#089981"/>
<path d="M670.25 184.5V195.0" stroke="#089981" stroke-width="0.7" opacity="0.85"/>
<rect x="669.00" y="185.0" width="2.5" height="9.0" fill="#089981"/>
<path d="M673.22 176.0V187.0" stroke="#089981" stroke-width="0.7" opacity="0.85"/>
<rect x="671.97" y="177.0" width="2.5" height="9.0" fill="#089981"/>
<path d="M676.20 168.2V180.8" stroke="#089981" stroke-width="0.7" opacity="0.85"/>
<rect x="674.95" y="170.0" width="2.5" height="8.0" fill="#089981"/>
<path d="M679.17 152.0V176.6" stroke="#089981" stroke-width="0.7" opacity="0.85"/>
<rect x="677.92" y="158.0" width="2.5" height="13.0" fill="#089981"/>
<path d="M682.14 155.7V160.0" stroke="#089981" stroke-width="0.7" opacity="0.85"/>
<rect x="680.89" y="156.0" width="2.5" height="2.0" fill="#089981"/>
<path d="M685.11 150.6V159.3" stroke="#089981" stroke-width="0.7" opacity="0.85"/>
<rect x="683.86" y="151.0" width="2.5" height="7.0" fill="#089981"/>
<path d="M688.09 146.0V155.3" stroke="#089981" stroke-width="0.7" opacity="0.85"/>
<rect x="686.84" y="149.0" width="2.5" height="4.0" fill="#089981"/>
<path d="M691.06 145.8V153.2" stroke="#089981" stroke-width="0.7" opacity="0.85"/>
<rect x="689.81" y="148.0" width="2.5" height="3.0" fill="#089981"/>
<path d="M694.03 140.0V151.5" stroke="#f23645" stroke-width="0.7" opacity="0.85"/>
<rect x="692.78" y="146.0" width="2.5" height="4.0" fill="#f23645"/>
<path d="M697.00 143.6V152.5" stroke="#089981" stroke-width="0.7" opacity="0.85"/>
<rect x="695.75" y="144.0" width="2.5" height="6.0" fill="#089981"/>
<path d="M699.98 135.0V148.4" stroke="#f23645" stroke-width="0.7" opacity="0.85"/>
<rect x="698.73" y="144.0" width="2.5" height="4.0" fill="#f23645"/>
<path d="M702.95 147.4V149.6" stroke="#089981" stroke-width="0.7" opacity="0.85"/>
<rect x="701.70" y="148.0" width="2.5" height="1.0" fill="#089981"/>
<path d="M705.92 146.9V152.4" stroke="#f23645" stroke-width="0.7" opacity="0.85"/>
<rect x="704.67" y="148.0" width="2.5" height="4.0" fill="#f23645"/>
<path d="M708.89 149.6V164.0" stroke="#f23645" stroke-width="0.7" opacity="0.85"/>
<rect x="707.64" y="150.0" width="2.5" height="6.0" fill="#f23645"/>
<path d="M711.87 147.5V157.7" stroke="#089981" stroke-width="0.7" opacity="0.85"/>
<rect x="710.62" y="150.0" width="2.5" height="6.0" fill="#089981"/>
<path d="M714.84 148.0V152.3" stroke="#f23645" stroke-width="0.7" opacity="0.85"/>
<rect x="713.59" y="150.0" width="2.5" height="2.0" fill="#f23645"/>
<path d="M717.81 150.4V170.6" stroke="#f23645" stroke-width="0.7" opacity="0.85"/>
<rect x="716.56" y="151.0" width="2.5" height="17.0" fill="#f23645"/>
<path d="M720.78 160.7V170.5" stroke="#089981" stroke-width="0.7" opacity="0.85"/>
<rect x="719.53" y="162.0" width="2.5" height="6.0" fill="#089981"/>
<path d="M723.76 156.8V195.2" stroke="#f23645" stroke-width="0.7" opacity="0.85"/>
<rect x="722.51" y="162.0" width="2.5" height="28.0" fill="#f23645"/>
<path d="M726.73 185.5V208.0" stroke="#f23645" stroke-width="0.7" opacity="0.85"/>
<rect x="725.48" y="188.0" width="2.5" height="6.0" fill="#f23645"/>
<path d="M729.70 185.1V198.6" stroke="#089981" stroke-width="0.7" opacity="0.85"/>
<rect x="728.45" y="186.0" width="2.5" height="8.0" fill="#089981"/>
<path d="M732.67 173.4V188.1" stroke="#089981" stroke-width="0.7" opacity="0.85"/>
<rect x="731.42" y="175.0" width="2.5" height="11.0" fill="#089981"/>
<path d="M735.65 172.7V181.3" stroke="#f23645" stroke-width="0.7" opacity="0.85"/>
<rect x="734.40" y="175.0" width="2.5" height="4.0" fill="#f23645"/>
<path d="M738.62 176.6V182.0" stroke="#f23645" stroke-width="0.7" opacity="0.85"/>
<rect x="737.37" y="178.0" width="2.5" height="2.0" fill="#f23645"/>
<path d="M741.59 178.4V206.0" stroke="#f23645" stroke-width="0.7" opacity="0.85"/>
<rect x="740.34" y="179.0" width="2.5" height="1.0" fill="#f23645"/>
<path d="M744.56 175.3V182.0" stroke="#089981" stroke-width="0.7" opacity="0.85"/>
<rect x="743.31" y="178.0" width="2.5" height="2.0" fill="#089981"/>
<path d="M747.54 170.6V182.8" stroke="#089981" stroke-width="0.7" opacity="0.85"/>
<rect x="746.29" y="172.0" width="2.5" height="8.0" fill="#089981"/>
<path d="M750.51 171.2V179.7" stroke="#f23645" stroke-width="0.7" opacity="0.85"/>
<rect x="749.26" y="172.0" width="2.5" height="6.0" fill="#f23645"/>
<path d="M753.48 173.2V179.5" stroke="#089981" stroke-width="0.7" opacity="0.85"/>
<rect x="752.23" y="174.0" width="2.5" height="4.0" fill="#089981"/>
<path d="M756.46 173.2V203.3" stroke="#f23645" stroke-width="0.7" opacity="0.85"/>
<rect x="755.21" y="174.0" width="2.5" height="26.0" fill="#f23645"/>
<path d="M759.43 197.2V222.1" stroke="#f23645" stroke-width="0.7" opacity="0.85"/>
<rect x="758.18" y="200.0" width="2.5" height="20.0" fill="#f23645"/>
<path d="M762.40 219.6V229.0" stroke="#f23645" stroke-width="0.7" opacity="0.85"/>
<rect x="761.15" y="220.0" width="2.5" height="5.0" fill="#f23645"/>
<path d="M765.37 223.9V240.2" stroke="#f23645" stroke-width="0.7" opacity="0.85"/>
<rect x="764.12" y="225.0" width="2.5" height="13.0" fill="#f23645"/>
<path d="M768.35 229.5V238.9" stroke="#089981" stroke-width="0.7" opacity="0.85"/>
<rect x="767.10" y="230.0" width="2.5" height="8.0" fill="#089981"/>
<path d="M771.32 223.7V268.0" stroke="#f23645" stroke-width="0.7" opacity="0.85"/>
<rect x="770.07" y="229.0" width="2.5" height="18.0" fill="#f23645"/>
<path d="M774.29 236.6V247.5" stroke="#089981" stroke-width="0.7" opacity="0.85"/>
<rect x="773.04" y="238.0" width="2.5" height="9.0" fill="#089981"/>
<path d="M777.26 229.1V242.6" stroke="#089981" stroke-width="0.7" opacity="0.85"/>
<rect x="776.01" y="230.0" width="2.5" height="8.0" fill="#089981"/>
<path d="M780.24 206.0V235.8" stroke="#089981" stroke-width="0.7" opacity="0.85"/>
<rect x="778.99" y="216.0" width="2.5" height="14.0" fill="#089981"/>
<path d="M783.21 212.6V223.3" stroke="#f23645" stroke-width="0.7" opacity="0.85"/>
<rect x="781.96" y="216.0" width="2.5" height="6.0" fill="#f23645"/>
<path d="M786.18 220.7V242.0" stroke="#f23645" stroke-width="0.7" opacity="0.85"/>
<rect x="784.93" y="222.0" width="2.5" height="18.0" fill="#f23645"/>
<path d="M789.15 239.2V246.6" stroke="#f23645" stroke-width="0.7" opacity="0.85"/>
<rect x="787.90" y="240.0" width="2.5" height="5.0" fill="#f23645"/>
<path d="M792.13 240.2V252.0" stroke="#089981" stroke-width="0.7" opacity="0.85"/>
<rect x="790.88" y="241.0" width="2.5" height="4.0" fill="#089981"/>
<path d="M795.10 238.0V258.0" stroke="#f23645" stroke-width="0.7" opacity="0.85"/>
<rect x="793.85" y="241.0" width="2.5" height="4.0" fill="#f23645"/>
<path d="M798.07 215.0V245.8" stroke="#089981" stroke-width="0.7" opacity="0.85"/>
<rect x="796.82" y="222.0" width="2.5" height="23.0" fill="#089981"/>
<path d="M801.04 219.6V224.4" stroke="#089981" stroke-width="0.7" opacity="0.85"/>
<rect x="799.79" y="221.0" width="2.5" height="2.0" fill="#089981"/>
<path d="M804.02 219.8V240.8" stroke="#f23645" stroke-width="0.7" opacity="0.85"/>
<rect x="802.77" y="221.0" width="2.5" height="14.0" fill="#f23645"/>
<path d="M806.99 228.2V240.0" stroke="#089981" stroke-width="0.7" opacity="0.85"/>
<rect x="805.74" y="229.0" width="2.5" height="6.0" fill="#089981"/>
<path d="M809.96 225.3V232.6" stroke="#089981" stroke-width="0.7" opacity="0.85"/>
<rect x="808.71" y="226.0" width="2.5" height="3.0" fill="#089981"/>
<path d="M812.93 220.5V228.3" stroke="#089981" stroke-width="0.7" opacity="0.85"/>
<rect x="811.68" y="222.0" width="2.5" height="4.0" fill="#089981"/>
<path d="M815.91 207.8V223.6" stroke="#089981" stroke-width="0.7" opacity="0.85"/>
<rect x="814.66" y="210.0" width="2.5" height="12.0" fill="#089981"/>
<path d="M818.88 181.8V211.6" stroke="#089981" stroke-width="0.7" opacity="0.85"/>
<rect x="817.63" y="185.0" width="2.5" height="25.0" fill="#089981"/>
<path d="M821.85 163.0V186.6" stroke="#089981" stroke-width="0.7" opacity="0.85"/>
<rect x="820.60" y="174.0" width="2.5" height="11.0" fill="#089981"/>
<path d="M824.82 163.0V177.0" stroke="#f23645" stroke-width="0.7" opacity="0.85"/>
<rect x="823.57" y="174.0" width="2.5" height="2.0" fill="#f23645"/>
<path d="M827.80 174.4V196.0" stroke="#f23645" stroke-width="0.7" opacity="0.85"/>
<rect x="826.55" y="175.0" width="2.5" height="15.0" fill="#f23645"/>
<path d="M830.77 188.8V195.4" stroke="#f23645" stroke-width="0.7" opacity="0.85"/>
<rect x="829.52" y="190.0" width="2.5" height="5.0" fill="#f23645"/>
<path d="M833.74 193.5V208.0" stroke="#f23645" stroke-width="0.7" opacity="0.85"/>
<rect x="832.49" y="195.0" width="2.5" height="10.0" fill="#f23645"/>
<path d="M836.72 203.6V209.4" stroke="#f23645" stroke-width="0.7" opacity="0.85"/>
<rect x="835.47" y="205.0" width="2.5" height="3.0" fill="#f23645"/>
<path d="M839.69 205.3V210.3" stroke="#f23645" stroke-width="0.7" opacity="0.85"/>
<rect x="838.44" y="208.0" width="2.5" height="2.0" fill="#f23645"/>
<path d="M842.66 203.4V222.0" stroke="#089981" stroke-width="0.7" opacity="0.85"/>
<rect x="841.41" y="205.0" width="2.5" height="5.0" fill="#089981"/>
<path d="M845.63 180.8V209.4" stroke="#089981" stroke-width="0.7" opacity="0.85"/>
<rect x="844.38" y="183.0" width="2.5" height="22.0" fill="#089981"/>
<path d="M848.61 175.0V198.2" stroke="#f23645" stroke-width="0.7" opacity="0.85"/>
<rect x="847.36" y="183.0" width="2.5" height="12.0" fill="#f23645"/>
<path d="M851.58 192.5V225.9" stroke="#f23645" stroke-width="0.7" opacity="0.85"/>
<rect x="850.33" y="195.0" width="2.5" height="26.0" fill="#f23645"/>
<path d="M854.55 220.6V232.0" stroke="#f23645" stroke-width="0.7" opacity="0.85"/>
<rect x="853.30" y="221.0" width="2.5" height="3.0" fill="#f23645"/>
<path d="M857.52 222.7V225.7" stroke="#f23645" stroke-width="0.7" opacity="0.85"/>
<rect x="856.27" y="223.0" width="2.5" height="2.0" fill="#f23645"/>
<path d="M860.50 222.4V244.0" stroke="#f23645" stroke-width="0.7" opacity="0.85"/>
<rect x="859.25" y="223.0" width="2.5" height="15.0" fill="#f23645"/>
<path d="M863.47 226.5V239.6" stroke="#f23645" stroke-width="0.7" opacity="0.85"/>
<rect x="862.22" y="227.0" width="2.5" height="11.0" fill="#f23645"/>
<path d="M866.44 227.6V238.5" stroke="#f23645" stroke-width="0.7" opacity="0.85"/>
<rect x="865.19" y="229.0" width="2.5" height="9.0" fill="#f23645"/>
<path d="M869.41 234.2V241.2" stroke="#f23645" stroke-width="0.7" opacity="0.85"/>
<rect x="868.16" y="235.0" width="2.5" height="5.0" fill="#f23645"/>
<path d="M872.39 233.2V241.7" stroke="#089981" stroke-width="0.7" opacity="0.85"/>
<rect x="871.14" y="234.0" width="2.5" height="6.0" fill="#089981"/>
<path d="M875.36 229.0V251.9" stroke="#f23645" stroke-width="0.7" opacity="0.85"/>
<rect x="874.11" y="234.0" width="2.5" height="16.0" fill="#f23645"/>
<path d="M878.33 243.3V259.0" stroke="#089981" stroke-width="0.7" opacity="0.85"/>
<rect x="877.08" y="245.0" width="2.5" height="6.0" fill="#089981"/>
<path d="M881.30 234.0V248.0" stroke="#089981" stroke-width="0.7" opacity="0.85"/>
<rect x="880.05" y="235.0" width="2.5" height="10.0" fill="#089981"/>
<path d="M884.28 225.0V249.2" stroke="#f23645" stroke-width="0.7" opacity="0.85"/>
<rect x="883.03" y="234.0" width="2.5" height="12.0" fill="#f23645"/>
<path d="M887.25 243.0V270.0" stroke="#f23645" stroke-width="0.7" opacity="0.85"/>
<rect x="886.00" y="246.0" width="2.5" height="10.0" fill="#f23645"/>
<path d="M890.22 253.6V274.0" stroke="#089981" stroke-width="0.7" opacity="0.85"/>
<rect x="888.97" y="255.0" width="2.5" height="2.0" fill="#089981"/>
<path d="M893.19 240.7V258.6" stroke="#089981" stroke-width="0.7" opacity="0.85"/>
<rect x="891.94" y="245.0" width="2.5" height="12.0" fill="#089981"/>
<path d="M896.17 238.0V246.3" stroke="#089981" stroke-width="0.7" opacity="0.85"/>
<rect x="894.92" y="244.0" width="2.5" height="2.0" fill="#089981"/>
<path d="M899.14 243.4V256.5" stroke="#f23645" stroke-width="0.7" opacity="0.85"/>
<rect x="897.89" y="245.0" width="2.5" height="11.0" fill="#f23645"/>
<path d="M902.11 250.7V275.3" stroke="#f23645" stroke-width="0.7" opacity="0.85"/>
<rect x="900.86" y="256.0" width="2.5" height="18.0" fill="#f23645"/>
<path d="M905.09 272.0V281.0" stroke="#f23645" stroke-width="0.7" opacity="0.85"/>
<rect x="903.84" y="274.0" width="2.5" height="5.4" fill="#f23645"/>
</g>
<g clip-path="url(#cp)" fill="none" stroke-linejoin="round" stroke-linecap="round">
<path d="M6.5 44.5C11.4 44.2 27.1 43.5 36.0 43.0C44.9 42.5 53.5 41.8 60.0 41.5C66.5 41.2 69.7 40.8 75.0 41.0C80.3 41.2 86.5 42.0 92.0 42.5C97.5 43.0 103.7 43.2 108.0 43.8C112.3 44.4 114.7 45.0 118.0 46.0C121.3 47.0 124.8 48.7 128.0 50.0C131.2 51.3 133.3 52.5 137.0 53.7C140.7 54.9 145.8 56.0 150.0 57.0C154.2 58.0 157.8 58.5 162.0 60.0C166.2 61.5 170.8 63.9 175.0 66.0C179.2 68.1 182.8 70.3 187.0 72.5C191.2 74.7 195.8 76.9 200.0 79.0C204.2 81.1 207.8 83.3 212.0 85.0C216.2 86.7 220.8 88.0 225.0 89.0C229.2 90.0 232.8 90.4 237.0 91.0C241.2 91.6 245.8 92.0 250.0 92.5C254.2 93.0 257.5 93.5 262.0 93.8C266.5 94.1 272.3 94.5 277.0 94.5C281.7 94.5 285.8 94.1 290.0 93.5C294.2 92.9 297.8 92.0 302.0 91.0C306.2 90.0 310.8 88.7 315.0 87.5C319.2 86.3 322.8 85.1 327.0 83.7C331.2 82.3 335.8 80.5 340.0 79.0C344.2 77.5 347.8 75.9 352.0 74.5C356.2 73.1 360.8 71.6 365.0 70.5C369.2 69.4 372.8 68.5 377.0 68.0C381.2 67.5 385.8 67.4 390.0 67.2C394.2 67.0 397.8 66.8 402.0 67.0C406.2 67.2 411.2 68.0 415.0 68.7C418.8 69.5 421.7 70.5 425.0 71.5C428.3 72.5 431.8 73.8 435.0 75.0C438.2 76.2 441.2 77.5 444.0 78.5C446.8 79.5 448.5 80.0 452.0 81.0C455.5 82.0 460.3 83.8 465.0 84.5C469.7 85.2 475.0 85.1 480.0 85.5C485.0 85.9 490.8 86.7 495.0 87.0C499.2 87.3 499.2 87.1 505.0 87.5C510.8 87.9 523.3 88.9 530.0 89.5C536.7 90.1 541.3 90.1 545.0 91.0C548.7 91.9 549.5 93.3 552.0 95.0C554.5 96.7 557.0 99.3 560.0 101.0C563.0 102.7 566.7 103.7 570.0 105.0C573.3 106.3 577.0 107.2 580.0 108.7C583.0 110.2 585.5 112.1 588.0 114.0C590.5 115.9 591.3 116.9 595.0 120.0C598.7 123.1 605.0 128.2 610.0 132.5C615.0 136.8 620.8 142.4 625.0 146.0C629.2 149.6 631.7 151.2 635.0 154.0C638.3 156.8 641.2 159.3 645.0 162.5C648.8 165.7 653.8 169.7 658.0 173.0C662.2 176.3 666.0 180.0 670.0 182.5C674.0 185.0 678.2 186.7 682.0 188.0C685.8 189.3 689.2 190.5 692.5 190.5C695.8 190.5 699.1 188.8 702.0 188.0C704.9 187.2 707.0 186.0 710.0 185.5C713.0 185.0 716.3 185.0 720.0 185.0C723.7 185.0 727.8 185.9 732.0 185.5C736.2 185.1 741.2 183.3 745.0 182.5C748.8 181.7 750.8 180.6 755.0 180.5C759.2 180.4 765.8 181.3 770.0 182.0C774.2 182.7 776.7 183.6 780.0 184.5C783.3 185.4 786.7 186.7 790.0 187.5C793.3 188.3 796.7 188.9 800.0 189.5C803.3 190.1 805.4 190.5 810.0 191.0C814.6 191.5 823.0 191.9 827.5 192.5C832.0 193.1 834.1 193.7 837.0 194.5C839.9 195.3 842.0 196.2 845.0 197.5C848.0 198.8 851.7 200.3 855.0 202.0C858.3 203.7 861.7 205.8 865.0 207.5C868.3 209.2 871.7 210.5 875.0 212.0C878.3 213.5 881.7 214.9 885.0 216.5C888.3 218.1 891.7 219.8 895.0 221.5C898.3 223.2 903.3 226.1 905.0 227.0" stroke="#ffff00" stroke-width="2.4" opacity="0.8"/>
<path d="M6.5 48.0C7.8 47.1 11.5 44.2 14.0 42.5C16.5 40.8 17.8 39.4 21.5 37.7C25.2 36.0 30.6 33.8 36.0 32.3C41.4 30.8 48.0 29.6 54.0 28.7C60.0 27.8 66.7 27.1 72.0 27.0C77.3 26.9 81.2 27.1 86.0 27.8C90.8 28.5 96.3 30.0 100.6 31.4C104.9 32.8 107.8 34.2 112.0 36.0C116.2 37.8 120.5 40.2 125.8 42.2C131.1 44.2 137.7 46.6 143.7 48.2C149.7 49.8 155.1 50.5 161.7 52.0C168.2 53.5 177.3 55.6 183.0 57.0C188.7 58.4 192.5 59.6 196.0 60.5C199.5 61.4 198.5 61.4 204.0 62.3C209.5 63.1 219.2 64.6 229.0 65.6C238.8 66.6 251.8 67.0 263.0 68.2C274.2 69.4 285.8 71.6 296.0 73.0C306.2 74.4 316.7 75.8 324.0 76.6C331.3 77.4 333.2 77.4 340.0 77.8C346.8 78.2 356.7 78.4 365.0 78.7C373.3 79.0 381.7 79.1 390.0 79.5C398.3 79.9 406.7 80.1 415.0 81.0C423.3 81.9 433.0 84.0 440.0 85.0C447.0 86.0 450.8 87.0 457.0 87.0C463.2 87.0 470.7 85.8 477.0 85.0C483.3 84.2 489.2 82.9 495.0 82.0C500.8 81.1 506.2 80.0 512.0 79.5C517.8 79.0 524.5 78.8 530.0 78.7C535.5 78.6 540.0 78.2 545.0 79.0C550.0 79.8 554.2 81.9 560.0 83.7C565.8 85.5 572.5 86.7 580.0 90.0C587.5 93.3 596.7 99.1 605.0 103.7C613.3 108.3 621.7 113.1 630.0 117.5C638.3 121.9 648.3 127.0 655.0 130.0C661.7 133.0 665.0 133.9 670.0 135.5C675.0 137.1 680.8 138.4 685.0 139.5C689.2 140.6 689.6 141.1 695.0 142.0C700.4 142.9 709.2 143.6 717.5 145.0C725.8 146.4 737.9 148.8 745.0 150.5C752.1 152.2 755.0 152.7 760.0 155.0C765.0 157.3 771.2 161.8 775.0 164.5C778.8 167.2 777.9 167.8 782.5 171.0C787.1 174.2 797.1 181.2 802.5 184.0C807.9 186.8 810.8 187.0 815.0 188.0C819.2 189.0 821.2 188.8 827.5 190.0C833.8 191.2 843.8 193.7 852.5 195.5C861.2 197.3 871.2 199.6 880.0 201.0C888.8 202.4 900.8 203.5 905.0 204.0" stroke="#800000" stroke-width="2.4" opacity="0.7"/>
<path d="M6.5 149.0C9.6 147.8 17.8 144.2 25.0 141.5C32.2 138.8 41.7 135.3 50.0 132.5C58.3 129.7 65.5 127.3 75.0 124.5C84.5 121.7 96.2 118.8 107.0 115.5C117.8 112.2 129.5 108.3 140.0 105.0C150.5 101.7 158.0 98.8 170.0 95.5C182.0 92.2 200.3 88.0 212.0 85.0C223.7 82.0 231.2 80.2 240.0 77.5C248.8 74.8 256.7 71.2 265.0 68.5C273.3 65.8 281.7 63.1 290.0 61.0C298.3 58.9 306.7 57.2 315.0 56.0C323.3 54.8 331.7 54.6 340.0 54.0C348.3 53.4 358.8 52.7 365.0 52.5C371.2 52.3 372.0 52.4 377.0 53.0C382.0 53.6 388.7 54.7 395.0 56.0C401.3 57.3 407.5 59.2 415.0 61.0C422.5 62.8 431.7 65.4 440.0 67.0C448.3 68.6 455.8 69.7 465.0 70.5C474.2 71.3 485.8 71.6 495.0 72.0C504.2 72.4 512.2 72.8 520.0 73.0C527.8 73.2 536.2 73.2 542.0 73.5C547.8 73.8 550.8 74.2 555.0 75.0C559.2 75.8 560.8 76.2 567.0 78.0C573.2 79.8 583.7 83.2 592.0 86.0C600.3 88.8 608.7 92.1 617.0 94.5C625.3 96.9 633.7 98.5 642.0 100.5C650.3 102.5 658.7 105.0 667.0 106.5C675.3 108.0 683.7 108.4 692.0 109.5C700.3 110.6 709.0 111.7 717.0 113.0C725.0 114.3 732.0 115.9 740.0 117.5C748.0 119.1 755.8 120.5 765.0 122.5C774.2 124.5 785.0 127.7 795.0 129.5C805.0 131.3 815.4 132.1 825.0 133.5C834.6 134.9 845.0 136.6 852.5 138.0C860.0 139.4 864.6 140.5 870.0 142.0C875.4 143.5 880.8 145.6 885.0 147.0C889.2 148.4 891.7 149.2 895.0 150.5C898.3 151.8 903.3 154.2 905.0 155.0" stroke="#8b0e96" stroke-width="2.7" opacity="0.75"/>
</g>
<line x1="6.5" y1="279.7" x2="973.3" y2="279.7" stroke="#f23645" stroke-width="0.8" stroke-dasharray="1 1.6" opacity="0.45"/>
<g clip-path="url(#cp)" fill="none" stroke="#2962ff" stroke-width="1.25" stroke-linejoin="miter">
<path d="M425.0 22.3L973.3 227.1"/>
<path d="M480.5 43L604.7 248.4L708.7 128.5L777 253L822 165.5L893 257"/>
<path d="M220 248.5H973.3"/>
<path d="M705 394.4H973.3"/>
<path d="M893 250V394M886.3 387.6L893 394.3L899.7 387.6"/>
</g>
<g fill="none" stroke="#f23645" stroke-width="1.4"><path d="M931.8 278V393.6M921.8 383.4L931.8 393.8L941.8 383.4"/></g>
<path d="M660.6 52.3H739.4Q742.8 52.3 742.8 55.7V71.8Q742.8 75.2 739.4 75.2H704.6L658.8 109L694.2 75.2H660.6Q657.2 75.2 657.2 71.8V55.7Q657.2 52.3 660.6 52.3Z" fill="#c1c1c1" stroke="#3fa7a0" stroke-width="1" stroke-linejoin="round"/>
<text x="700" y="67.3" font-size="10" font-weight="700" text-anchor="middle" fill="#131722" textLength="72" lengthAdjust="spacingAndGlyphs">Resistance line</text>
<text x="633.8" y="257.6" font-size="11" font-weight="700" fill="#131722" textLength="65" lengthAdjust="spacingAndGlyphs">Support line</text>
<text x="663.4" y="400.3" font-size="11" font-weight="700" fill="#131722" textLength="34" lengthAdjust="spacingAndGlyphs">Target</text>
<g clip-path="url(#cp)"><rect x="871.6" y="401.4" width="120" height="15" rx="2.4" fill="#2a2e39" fill-opacity="0.06"/><rect x="872" y="401.2" width="120" height="14.6" rx="2" fill="#b4c6e4"/>
<text x="878" y="411" font-size="8" fill="#2a2e39" textLength="107.5" lengthAdjust="spacingAndGlyphs">−0.50931 (−24.65%) −50,931</text></g>
<g clip-path="url(#cr)" fill="none" stroke-linejoin="round">
<path d="M7.4 458.5L10.3 459.0L13.3 460.7L16.3 461.4L19.3 461.1L22.2 460.8L25.2 460.4L28.2 460.1L31.1 460.0L34.1 460.1L37.1 460.8L40.1 461.5L43.0 461.9L46.0 462.4L49.0 463.1L51.9 463.5L54.9 463.6L57.9 463.8L60.9 464.1L63.8 464.5L66.8 465.1L69.8 466.1L72.8 466.7L75.7 467.1L78.7 467.1L81.7 467.2L84.6 467.7L87.6 467.8L90.6 468.0L93.6 468.2L96.5 468.5L99.5 468.8L102.5 469.2L105.5 469.7L108.4 469.4L111.4 468.7L114.4 468.3L117.3 468.1L120.3 467.7L123.3 467.1L126.3 466.5L129.2 465.9L132.2 465.7L135.2 465.6L138.2 465.6L141.1 465.4L144.1 465.1L147.1 464.5L150.0 464.5L153.0 464.6L156.0 464.8L159.0 464.8L161.9 464.9L164.9 465.1L167.9 465.4L170.9 465.8L173.8 466.0L176.8 466.3L179.8 466.3L182.7 466.5L185.7 466.8L188.7 467.2L191.7 467.8L194.6 468.5L197.6 469.0L200.6 469.6L203.6 470.0L206.5 470.3L209.5 470.0L212.5 469.6L215.4 469.1L218.4 468.8L221.4 468.5L224.4 468.3L227.3 468.3L230.3 467.9L233.3 467.5L236.3 467.1L239.2 466.7L242.2 466.3L245.2 466.1L248.1 465.8L251.1 465.5L254.1 465.3L257.1 465.0L260.0 464.3L263.0 463.5L266.0 462.6L268.9 462.0L271.9 461.7L274.9 461.1L277.9 460.5L280.8 460.0L283.8 459.3L286.8 458.7L289.8 458.1L292.7 457.8L295.7 457.5L298.7 457.2L301.6 457.1L304.6 457.0L307.6 457.1L310.6 456.9L313.5 457.1L316.5 457.3L319.5 457.7L322.5 458.0L325.4 458.4L328.4 458.9L331.4 459.2L334.3 459.7L337.3 460.0L340.3 460.6L343.3 460.9L346.2 461.2L349.2 461.4L352.2 461.5L355.2 461.6L358.1 461.9L361.1 462.2L364.1 462.5L367.0 462.7L370.0 462.8L373.0 463.1L376.0 463.5L378.9 463.9L381.9 464.8L384.9 465.7L387.9 466.6L390.8 467.6L393.8 468.2L396.8 468.9L399.7 469.1L402.7 468.9L405.7 468.8L408.7 468.9L411.6 469.1L414.6 469.6L417.6 470.0L420.6 470.4L423.5 469.9L426.5 469.8L429.5 469.6L432.4 469.4L435.4 469.3L438.4 468.9L441.4 468.5L444.3 468.4L447.3 468.2L450.3 467.7L453.2 467.3L456.2 466.8L459.2 466.3L462.2 465.7L465.1 465.0L468.1 464.2L471.1 463.4L474.1 462.6L477.0 461.7L480.0 460.8L483.0 460.1L485.9 459.6L488.9 459.4L491.9 459.5L494.9 459.4L497.8 458.7L500.8 458.4L503.8 458.4L506.8 458.6L509.7 458.7L512.7 459.1L515.7 459.6L518.6 460.5L521.6 461.5L524.6 462.5L527.6 463.3L530.5 463.9L533.5 464.4L536.5 465.0L539.5 465.9L542.4 466.5L545.4 467.2L548.4 468.4L551.3 469.6L554.3 470.5L557.3 471.4L560.3 471.9L563.2 472.1L566.2 472.2L569.2 472.1L572.2 472.2L575.1 472.0L578.1 472.0L581.1 471.8L584.0 471.8L587.0 471.5L590.0 470.8L593.0 470.3L595.9 470.1L598.9 469.9L601.9 469.7L604.9 470.0L607.8 470.1L610.8 470.5L613.8 470.6L616.7 470.8L619.7 470.7L622.7 470.7L625.7 470.6L628.6 470.4L631.6 469.9L634.6 469.4L637.6 468.7L640.5 468.2L643.5 467.4L646.5 466.7L649.4 466.3L652.4 465.9L655.4 465.8L658.4 465.6L661.3 465.3L664.3 465.0L667.3 464.8L670.2 464.5L673.2 464.3L676.2 464.1L679.2 463.7L682.1 463.1L685.1 462.7L688.1 462.1L691.1 461.3L694.0 460.6L697.0 459.7L700.0 459.1L702.9 458.4L705.9 457.9L708.9 457.7L711.9 457.4L714.8 457.3L717.8 457.7L720.8 458.1L723.8 459.0L726.7 460.0L729.7 460.8L732.7 461.5L735.6 462.1L738.6 462.9L741.6 463.6L744.6 464.2L747.5 464.6L750.5 465.0L753.5 465.4L756.5 466.2L759.4 466.8L762.4 467.6L765.4 468.0L768.3 468.2L771.3 468.7L774.3 469.3L777.3 469.6L780.2 469.7L783.2 469.8L786.2 470.2L789.2 470.7L792.1 471.1L795.1 471.6L798.1 471.3L801.0 470.7L804.0 470.3L807.0 469.7L810.0 469.2L812.9 468.5L815.9 467.7L818.9 466.9L821.9 466.2L824.8 465.4L827.8 464.7L830.8 464.0L833.7 463.5L836.7 463.0L839.7 462.9L842.7 462.8L845.6 462.2L848.6 461.9L851.6 461.9L854.6 462.1L857.5 462.4L860.5 463.2L863.5 464.1L866.4 464.9L869.4 465.6L872.4 466.0L875.4 466.5L878.3 466.9L881.3 467.0L884.3 467.4L887.2 468.2L890.2 468.8L893.2 468.8L896.2 468.8L899.1 469.0L902.1 469.2L905.1 469.5" stroke="#f7d354" stroke-width="1"/>
<path d="M7.4 458.5L10.3 459.5L13.3 464.2L16.3 463.4L19.3 459.9L22.2 459.3L25.2 458.2L28.2 457.4L31.1 459.5L34.1 460.8L37.1 468.1L40.1 468.9L43.0 466.4L46.0 470.1L49.0 467.1L51.9 465.3L54.9 465.9L57.9 465.6L60.9 465.1L63.8 463.9L66.8 466.6L69.8 471.4L72.8 468.5L75.7 466.3L78.7 468.4L81.7 470.7L84.6 472.6L87.6 472.1L90.6 470.2L93.6 467.8L96.5 469.3L99.5 470.0L102.5 470.9L105.5 470.7L108.4 463.3L111.4 461.3L114.4 461.8L117.3 463.7L120.3 462.6L123.3 463.0L126.3 464.0L129.2 463.6L132.2 467.2L135.2 466.5L138.2 469.8L141.1 467.0L144.1 466.2L147.1 462.9L150.0 463.6L153.0 462.7L156.0 464.8L159.0 463.3L161.9 464.3L164.9 464.9L167.9 468.6L170.9 469.8L173.8 470.2L176.8 469.7L179.8 470.5L182.7 469.9L185.7 469.4L188.7 469.7L191.7 471.5L194.6 471.7L197.6 472.1L200.6 472.3L203.6 469.3L206.5 468.9L209.5 464.4L212.5 464.7L215.4 463.5L218.4 465.3L221.4 466.4L224.4 467.5L227.3 468.3L230.3 464.8L233.3 466.2L236.3 465.9L239.2 466.5L242.2 467.1L245.2 466.7L248.1 464.6L251.1 459.7L254.1 461.6L257.1 459.4L260.0 455.7L263.0 455.5L266.0 454.2L268.9 459.9L271.9 460.2L274.9 458.6L277.9 457.4L280.8 458.8L283.8 457.7L286.8 458.1L289.8 456.3L292.7 455.1L295.7 458.2L298.7 454.8L301.6 454.4L304.6 453.9L307.6 455.4L310.6 458.0L313.5 462.1L316.5 462.4L319.5 462.7L322.5 462.2L325.4 464.4L328.4 463.8L331.4 461.6L334.3 462.0L337.3 462.4L340.3 463.1L343.3 458.9L346.2 458.1L349.2 457.1L352.2 460.7L355.2 463.5L358.1 465.4L361.1 467.1L364.1 466.7L367.0 467.0L370.0 466.2L373.0 465.8L376.0 467.2L378.9 467.9L381.9 476.0L384.9 471.3L387.9 471.0L390.8 470.6L393.8 469.9L396.8 472.3L399.7 468.5L402.7 464.1L405.7 464.9L408.7 469.1L411.6 469.5L414.6 472.4L417.6 472.6L420.6 472.7L423.5 469.7L426.5 469.4L429.5 468.7L432.4 467.8L435.4 467.8L438.4 467.1L441.4 463.6L444.3 462.5L447.3 461.4L450.3 462.7L453.2 463.4L456.2 466.4L459.2 465.1L462.2 464.4L465.1 459.2L468.1 458.5L471.1 457.6L474.1 456.8L477.0 454.6L480.0 455.1L483.0 453.5L485.9 456.3L488.9 458.5L491.9 463.2L494.9 461.9L497.8 457.6L500.8 461.1L503.8 463.2L506.8 462.6L509.7 460.4L512.7 462.8L515.7 463.5L518.6 467.5L521.6 468.7L524.6 468.2L527.6 467.4L530.5 466.9L533.5 469.6L536.5 470.3L539.5 470.7L542.4 469.7L545.4 472.3L548.4 479.6L551.3 477.7L554.3 474.3L557.3 475.9L560.3 475.5L563.2 471.3L566.2 469.7L569.2 466.3L572.2 467.2L575.1 466.8L578.1 470.4L581.1 468.9L584.0 468.7L587.0 468.5L590.0 470.3L593.0 470.9L595.9 471.1L598.9 472.4L601.9 473.1L604.9 475.0L607.8 471.8L610.8 471.5L613.8 469.3L616.7 469.1L619.7 469.4L622.7 469.4L625.7 466.6L628.6 466.4L631.6 463.3L634.6 463.3L637.6 462.1L640.5 465.2L643.5 461.4L646.5 465.4L649.4 465.9L652.4 466.4L655.4 467.8L658.4 465.6L661.3 465.6L664.3 465.4L667.3 463.8L670.2 462.1L673.2 460.6L676.2 459.3L679.2 457.3L682.1 456.9L685.1 456.2L688.1 455.8L691.1 455.7L694.0 456.4L697.0 455.3L700.0 456.8L702.9 456.8L705.9 458.4L708.9 459.9L711.9 458.3L714.8 459.1L717.8 464.6L720.8 462.8L723.8 469.4L726.7 470.1L729.7 467.8L732.7 464.9L735.6 465.8L738.6 466.1L741.6 466.1L744.6 465.5L747.5 463.7L750.5 465.4L753.5 464.2L756.5 470.1L759.4 473.2L762.4 473.8L765.4 475.4L768.3 473.0L771.3 475.0L774.3 472.5L777.3 470.4L780.2 467.1L783.2 468.1L786.2 470.7L789.2 471.4L792.1 470.4L795.1 471.0L798.1 465.7L801.0 465.5L804.0 467.9L807.0 466.6L810.0 465.9L812.9 465.0L815.9 462.6L818.9 458.4L821.9 457.0L824.8 457.4L827.8 460.6L830.8 461.6L833.7 463.6L836.7 464.2L839.7 464.6L842.7 463.6L845.6 459.5L848.6 462.1L851.6 466.7L854.6 467.1L857.5 467.3L860.5 469.3L863.5 469.3L866.4 469.3L869.4 469.6L872.4 468.0L875.4 470.7L878.3 469.4L881.3 466.8L884.3 468.8L887.2 470.4L890.2 470.1L893.2 467.5L896.2 467.3L899.1 469.5L902.1 472.2L905.1 473.0" stroke="#7e57c2" stroke-width="0.9"/>
</g>
<text x="1008.6" y="47.3" font-size="8.3" text-anchor="end" fill="#2a2e39">3.10000</text>
<text x="1008.6" y="69.9" font-size="8.3" text-anchor="end" fill="#2a2e39">3.00000</text>
<text x="1008.6" y="92.6" font-size="8.3" text-anchor="end" fill="#2a2e39">2.90000</text>
<text x="1008.6" y="115.2" font-size="8.3" text-anchor="end" fill="#2a2e39">2.80000</text>
<text x="1008.6" y="137.9" font-size="8.3" text-anchor="end" fill="#2a2e39">2.70000</text>
<text x="1008.6" y="160.5" font-size="8.3" text-anchor="end" fill="#2a2e39">2.60000</text>
<text x="1008.6" y="183.2" font-size="8.3" text-anchor="end" fill="#2a2e39">2.50000</text>
<text x="1008.6" y="205.8" font-size="8.3" text-anchor="end" fill="#2a2e39">2.40000</text>
<text x="1008.6" y="228.5" font-size="8.3" text-anchor="end" fill="#2a2e39">2.30000</text>
<text x="1008.6" y="251.1" font-size="8.3" text-anchor="end" fill="#2a2e39">2.20000</text>
<text x="1008.6" y="273.8" font-size="8.3" text-anchor="end" fill="#2a2e39">2.10000</text>
<text x="1008.6" y="296.4" font-size="8.3" text-anchor="end" fill="#2a2e39">2.00000</text>
<text x="1008.6" y="319.1" font-size="8.3" text-anchor="end" fill="#2a2e39">1.90000</text>
<text x="1008.6" y="341.7" font-size="8.3" text-anchor="end" fill="#2a2e39">1.80000</text>
<text x="1008.6" y="364.4" font-size="8.3" text-anchor="end" fill="#2a2e39">1.70000</text>
<text x="1008.6" y="387.0" font-size="8.3" text-anchor="end" fill="#2a2e39">1.60000</text>
<text x="1008.6" y="409.7" font-size="8.3" text-anchor="end" fill="#2a2e39">1.50000</text>
<text x="1008.6" y="432.3" font-size="8.3" text-anchor="end" fill="#2a2e39">1.40000</text>
<rect x="973.3" y="150.1" width="38.7" height="10.4" rx="1.2" fill="#880e91"/>
<text x="1008.6" y="158.3" font-size="8.3" text-anchor="end" fill="#fff">2.61085</text>
<rect x="973.3" y="199.3" width="38.7" height="10.4" rx="1.2" fill="#800000"/>
<text x="1008.6" y="207.5" font-size="8.3" text-anchor="end" fill="#fff">2.39464</text>
<rect x="973.3" y="222.6" width="38.7" height="10.4" rx="1.2" fill="#ffff00"/>
<text x="1008.6" y="230.8" font-size="8.3" text-anchor="end" fill="#3a3200">2.29208</text>
<rect x="973.3" y="243.2" width="38.7" height="10.4" rx="1.2" fill="#2962ff"/>
<text x="1008.6" y="251.4" font-size="8.3" text-anchor="end" fill="#fff">2.20000</text>
<rect x="973.3" y="389.3" width="38.7" height="10.4" rx="1.2" fill="#2962ff"/>
<text x="1008.6" y="397.5" font-size="8.3" text-anchor="end" fill="#fff">1.55519</text>
<rect x="973.3" y="275.1" width="41" height="18.6" rx="1.2" fill="#f23645"/>
<text x="1008.6" y="283.2" font-size="8.3" text-anchor="end" fill="#fff">2.06068</text>
<text x="1008.6" y="291.6" font-size="8" text-anchor="end" fill="#fff" fill-opacity="0.85">06:37:53</text>
<rect x="973.3" y="457.1" width="29.2" height="10.5" fill="#fdd835"/>
<text x="999" y="465.4" font-size="8.3" text-anchor="end" fill="#4a3c00">39.88</text>
<rect x="973.3" y="467.6" width="29.2" height="10.4" fill="#7e57c2"/>
<text x="999" y="475.8" font-size="8.3" text-anchor="end" fill="#fff">33.07</text>
<rect x="975.4" y="19.1" width="40.1" height="15.8" rx="2.5" fill="#fff" stroke="#ebedf0" stroke-width="1"/>
<text x="981" y="29.8" font-size="7.7" fill="#131722" stroke="#131722" stroke-width="0.15">USD</text>
<text x="25.2" y="496.8" font-size="8.3" text-anchor="middle" fill="#2a2e39">13</text>
<text x="60.9" y="496.8" font-size="8.3" text-anchor="middle" fill="#2a2e39">17</text>
<text x="96.5" y="496.8" font-size="8.3" text-anchor="middle" fill="#2a2e39">21</text>
<text x="132.2" y="496.8" font-size="8.3" text-anchor="middle" fill="#2a2e39">25</text>
<text x="194.6" y="496.8" font-size="8.3" text-anchor="middle" fill="#2a2e39" font-weight="700">Sep</text>
<text x="230.3" y="496.8" font-size="8.3" text-anchor="middle" fill="#2a2e39">5</text>
<text x="266.0" y="496.8" font-size="8.3" text-anchor="middle" fill="#2a2e39">9</text>
<text x="301.7" y="496.8" font-size="8.3" text-anchor="middle" fill="#2a2e39">13</text>
<text x="337.3" y="496.8" font-size="8.3" text-anchor="middle" fill="#2a2e39">17</text>
<text x="373.0" y="496.8" font-size="8.3" text-anchor="middle" fill="#2a2e39">21</text>
<text x="408.7" y="496.8" font-size="8.3" text-anchor="middle" fill="#2a2e39">25</text>
<text x="462.2" y="496.8" font-size="8.3" text-anchor="middle" fill="#2a2e39" font-weight="700">Oct</text>
<text x="497.8" y="496.8" font-size="8.3" text-anchor="middle" fill="#2a2e39">5</text>
<text x="533.5" y="496.8" font-size="8.3" text-anchor="middle" fill="#2a2e39">9</text>
<text x="569.2" y="496.8" font-size="8.3" text-anchor="middle" fill="#2a2e39">13</text>
<text x="604.9" y="496.8" font-size="8.3" text-anchor="middle" fill="#2a2e39">17</text>
<text x="640.5" y="496.8" font-size="8.3" text-anchor="middle" fill="#2a2e39">21</text>
<text x="676.2" y="496.8" font-size="8.3" text-anchor="middle" fill="#2a2e39">25</text>
<text x="738.6" y="496.8" font-size="8.3" text-anchor="middle" fill="#2a2e39" font-weight="700">Nov</text>
<text x="774.3" y="496.8" font-size="8.3" text-anchor="middle" fill="#2a2e39">5</text>
<text x="810.0" y="496.8" font-size="8.3" text-anchor="middle" fill="#2a2e39">9</text>
<text x="845.6" y="496.8" font-size="8.3" text-anchor="middle" fill="#2a2e39">13</text>
<text x="881.3" y="496.8" font-size="8.3" text-anchor="middle" fill="#2a2e39">17</text>
<text x="917.0" y="496.8" font-size="8.3" text-anchor="middle" fill="#2a2e39">21</text>
<text x="952.7" y="496.8" font-size="8.3" text-anchor="middle" fill="#2a2e39">25</text>
<text x="11.7" y="29.9" font-size="7.7" fill="#131722" textLength="110.6" lengthAdjust="spacingAndGlyphs">XRP / U.S. Dollar · 8h · Bitstamp</text>
<text x="127.2" y="29.9" font-size="8.1" fill="#131722">O</text>
<text x="133.0" y="29.9" font-size="8.1" fill="#f23645" textLength="29.7" lengthAdjust="spacingAndGlyphs">2.08399</text>
<text x="167.2" y="29.9" font-size="8.1" fill="#131722">H</text>
<text x="172.9" y="29.9" font-size="8.1" fill="#f23645" textLength="28.0" lengthAdjust="spacingAndGlyphs">2.10030</text>
<text x="205.8" y="29.9" font-size="8.1" fill="#131722">L</text>
<text x="209.7" y="29.9" font-size="8.1" fill="#f23645" textLength="28.8" lengthAdjust="spacingAndGlyphs">2.05370</text>
<text x="243.4" y="29.9" font-size="8.1" fill="#131722">C</text>
<text x="249.3" y="29.9" font-size="8.1" fill="#f23645" textLength="28.6" lengthAdjust="spacingAndGlyphs">2.06068</text>
<text x="283.3" y="29.9" font-size="7.9" fill="#f23645" textLength="65.6" lengthAdjust="spacingAndGlyphs">−0.02372 (−1.14%)</text>
<text x="11.7" y="39.9" font-size="7.8" fill="#131722" textLength="139.8" lengthAdjust="spacingAndGlyphs">SMAs (50, close, 100, close, 200, close)</text>
<text x="156.4" y="39.9" font-size="8.1" fill="#f4f000" textLength="29.4" lengthAdjust="spacingAndGlyphs">2.29208</text>
<text x="190.9" y="39.9" font-size="8.1" fill="#800000" textLength="29.0" lengthAdjust="spacingAndGlyphs">2.39464</text>
<text x="224.9" y="39.9" font-size="8.1" fill="#880e91" textLength="28.2" lengthAdjust="spacingAndGlyphs">2.61085</text>
<text x="11.7" y="461.9" font-size="7.6" fill="#131722" textLength="49.5" lengthAdjust="spacingAndGlyphs">RSI (14, close)</text>
<text x="66.2" y="461.9" font-size="7.8" fill="#7e57c2" textLength="19.3" lengthAdjust="spacingAndGlyphs">33.07</text>
<text x="90.5" y="461.9" font-size="7.8" fill="#f7d354" textLength="19.3" lengthAdjust="spacingAndGlyphs">39.88</text>
<text x="6.5" y="12.5" font-size="7.9" fill="#1e222d" stroke="#1e222d" stroke-width="0.32" textLength="247.3" lengthAdjust="spacingAndGlyphs">kanguhalubale created with TradingView.com, Nov 19, 2025 17:22 UTC</text>
<g><clipPath id="f9113"><circle cx="911.3" cy="440.5" r="4.9"/></clipPath><circle cx="911.3" cy="440.5" r="6.3" fill="#fff" stroke="#f23645" stroke-width="1.1"/><g clip-path="url(#f9113)"><rect x="906.3" y="435.5" width="10" height="10" fill="#fff"/><rect x="906.3" y="435.60" width="10" height="1.60" fill="#f0525c"/><rect x="906.3" y="439.50" width="10" height="2.00" fill="#f0525c"/><rect x="906.3" y="443.10" width="10" height="2.30" fill="#f0525c"/><rect x="906.4" y="435.6" width="6.1" height="5.9" fill="#5b9cf6"/><g fill="#a9cbfb"><circle cx="908.7" cy="437.6" r="0.55"/><circle cx="910.7" cy="438.8" r="0.55"/><circle cx="908.9" cy="440.1" r="0.55"/></g></g></g>
<g><clipPath id="f9048"><circle cx="904.8" cy="440.5" r="4.9"/></clipPath><circle cx="904.8" cy="440.5" r="6.3" fill="#fff" stroke="#f23645" stroke-width="1.1"/><g clip-path="url(#f9048)"><rect x="899.8" y="435.5" width="10" height="10" fill="#fff"/><rect x="899.8" y="435.60" width="10" height="1.60" fill="#f0525c"/><rect x="899.8" y="439.50" width="10" height="2.00" fill="#f0525c"/><rect x="899.8" y="443.10" width="10" height="2.30" fill="#f0525c"/><rect x="899.9" y="435.6" width="6.1" height="5.9" fill="#5b9cf6"/><g fill="#a9cbfb"><circle cx="902.2" cy="437.6" r="0.55"/><circle cx="904.2" cy="438.8" r="0.55"/><circle cx="902.4" cy="440.1" r="0.55"/></g></g></g>
<g><clipPath id="f9556"><circle cx="955.6" cy="440.5" r="4.9"/></clipPath><circle cx="955.6" cy="440.5" r="6.3" fill="#fff" stroke="#f23645" stroke-width="1.1"/><g clip-path="url(#f9556)"><rect x="950.6" y="435.5" width="10" height="10" fill="#fff"/><rect x="950.6" y="435.60" width="10" height="1.60" fill="#f0525c"/><rect x="950.6" y="439.50" width="10" height="2.00" fill="#f0525c"/><rect x="950.6" y="443.10" width="10" height="2.30" fill="#f0525c"/><rect x="950.7" y="435.6" width="6.1" height="5.9" fill="#5b9cf6"/><g fill="#a9cbfb"><circle cx="953.0" cy="437.6" r="0.55"/><circle cx="955.0" cy="438.8" r="0.55"/><circle cx="953.2" cy="440.1" r="0.55"/></g></g></g>
<g><circle cx="905.6" cy="424.5" r="5.8" fill="#fff" stroke="#b45cc6" stroke-width="1.05"/>
<path d="M907.3 421.4L902.6 425.6h2.6l-1.9 2.9l4.9-4.2h-2.7z" fill="#8e24aa"/>
<circle cx="909.4" cy="420.6" r="1.9" fill="#f23645" stroke="#fff" stroke-width="0.8"/>
<path d="M898.4 423.9l0.9 2.2l2.2 0.9l-2.2 0.9l-0.9 2.2l-0.9-2.2l-2.2-0.9l2.2-0.9z" fill="#4f5ee8" stroke="#fff" stroke-width="0.5"/></g>
<g fill="#131722"><path d="M7.3 515.9H15.5V525H10.8V519.7H7.3Z"/><circle cx="17.9" cy="517.8" r="1.75"/><path d="M18.5 525L21.6 515.9H25.8L22.6 525Z"/>
<text x="31" y="525.2" font-size="12.6" font-weight="700" textLength="74" lengthAdjust="spacingAndGlyphs" fill="#131722">TradingView</text></g>
</svg>
</body></html>
